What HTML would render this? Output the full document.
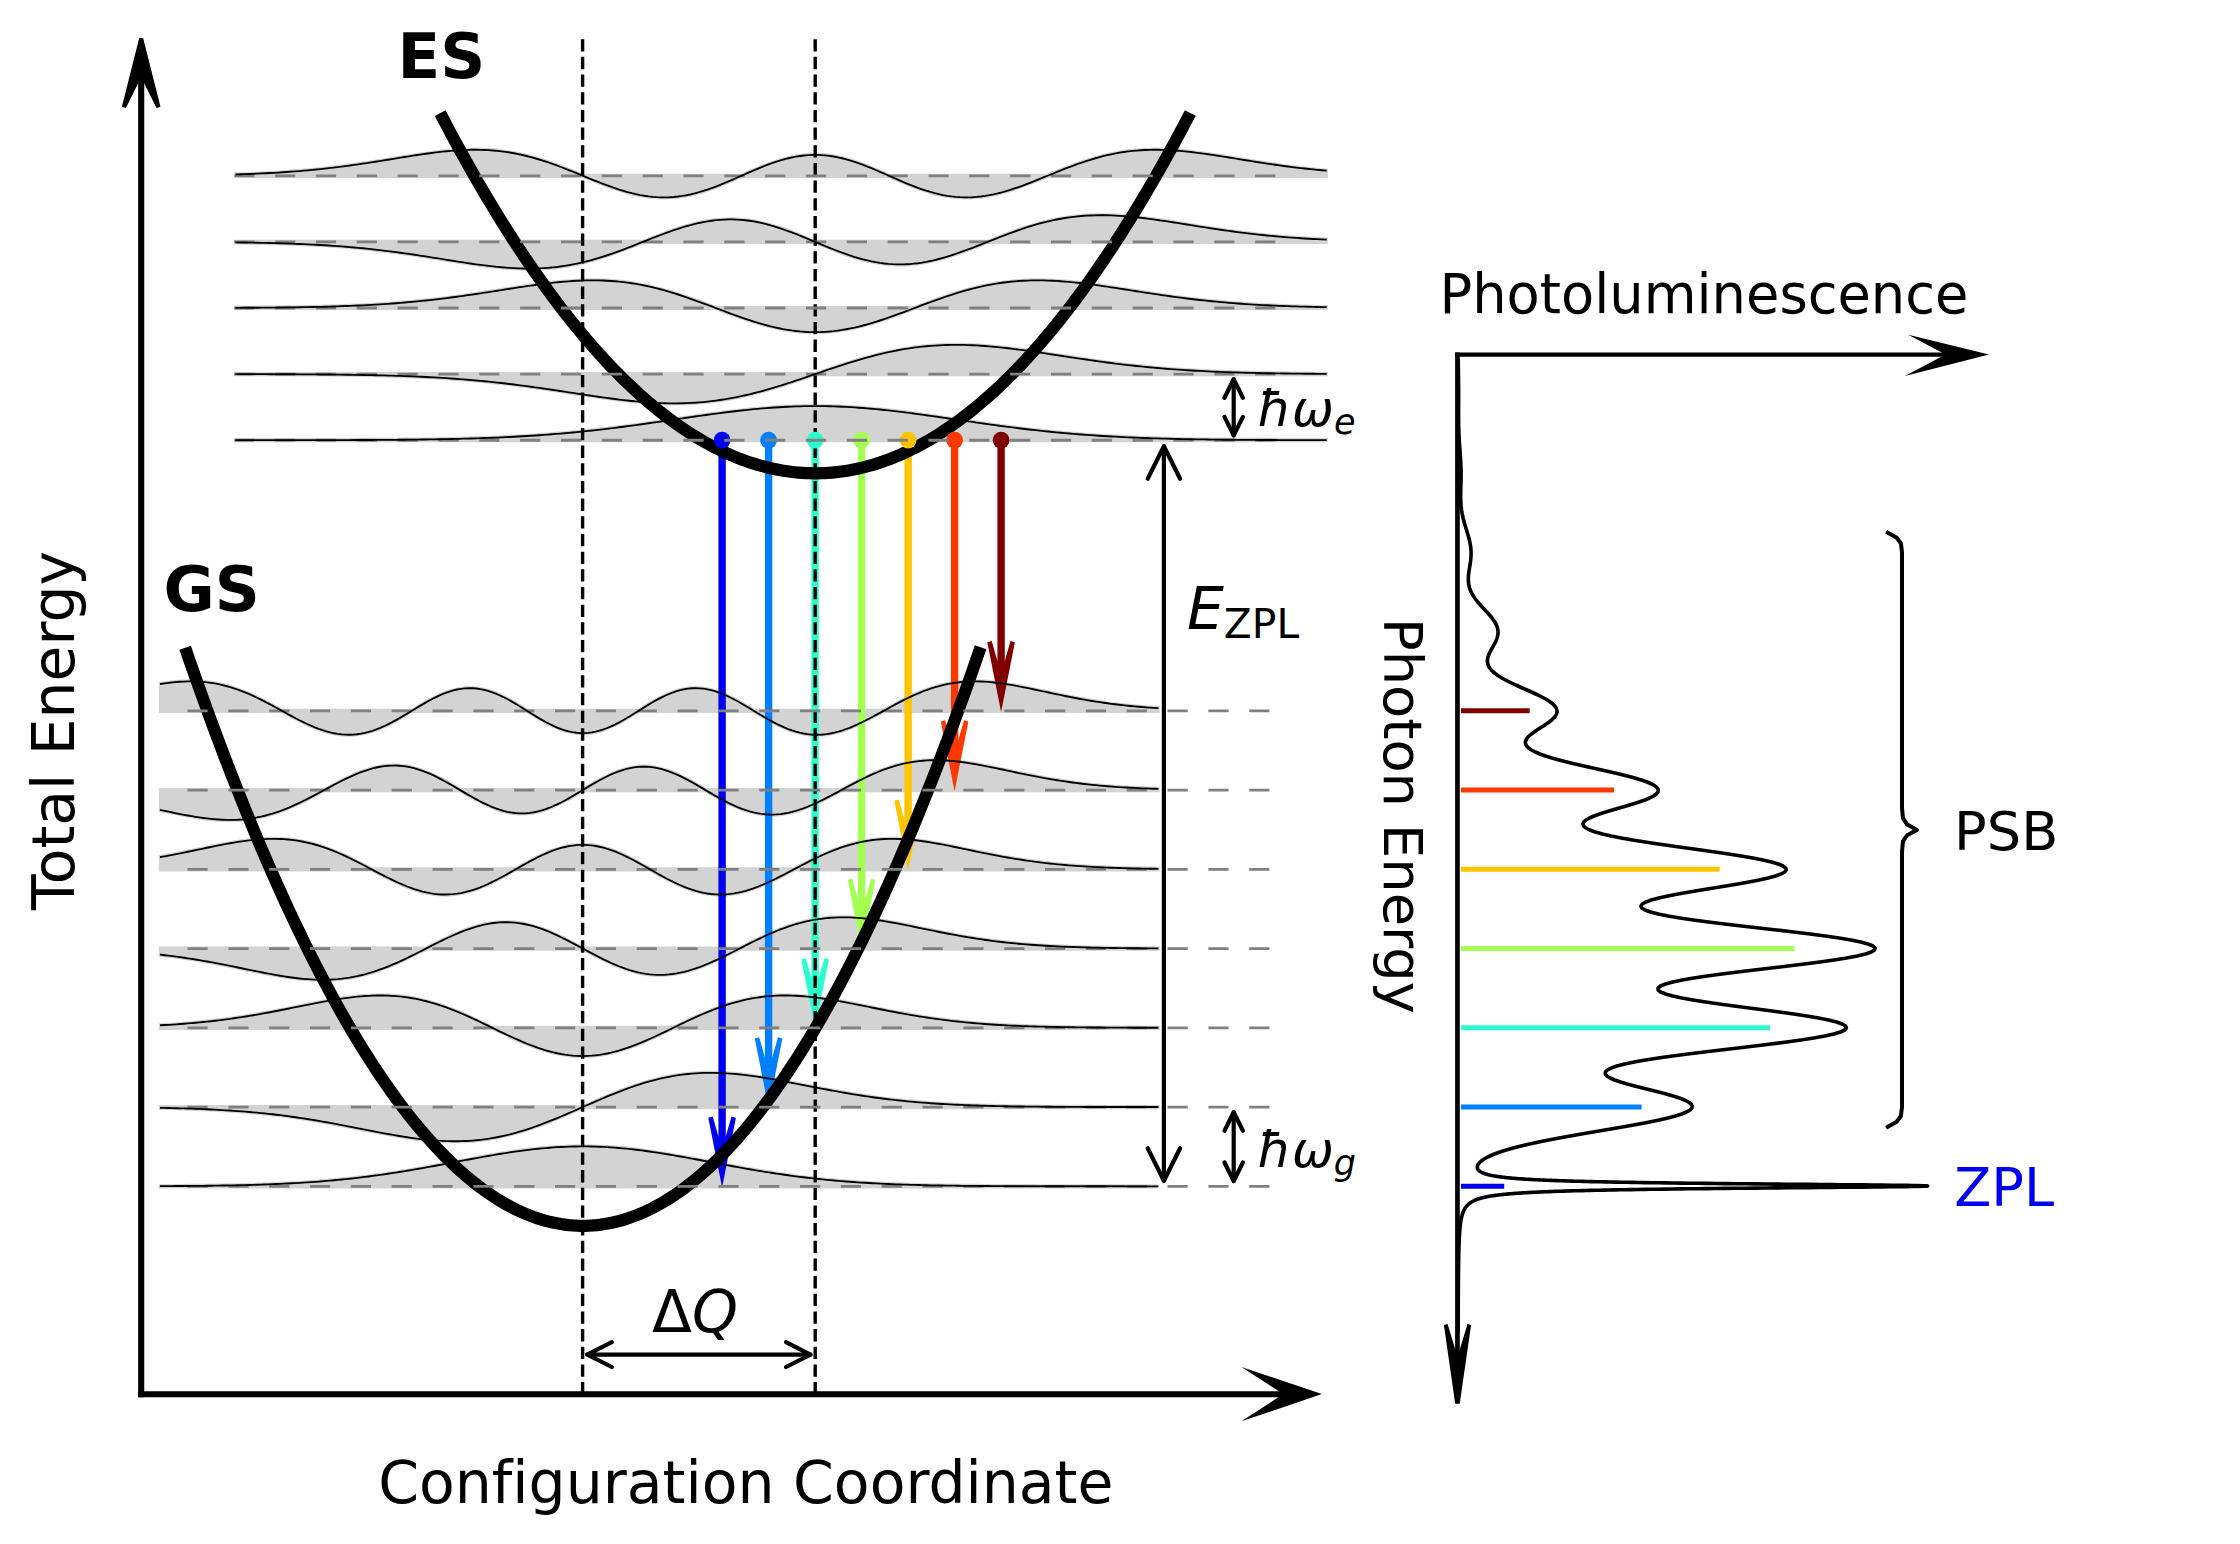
<!DOCTYPE html>
<html lang="en"><head><meta charset="utf-8"><title>Configuration coordinate diagram</title>
<style>html,body{margin:0;padding:0;background:#fff}body{width:2240px;height:1544px;overflow:hidden}</style></head>
<body>
<svg width="2240" height="1544" viewBox="0 0 2240 1544" style="display:block;font-family:'DejaVu Sans','Liberation Sans',sans-serif;font-variant-ligatures:none">
<rect width="2240" height="1544" fill="#fff"/>
<g id="fills">
<path d="M236.4 440.19 L240.61 440.19 L244.81 440.19 L249.02 440.19 L253.22 440.19 L257.43 440.19 L261.64 440.19 L265.84 440.18 L270.05 440.18 L274.26 440.18 L278.46 440.18 L282.67 440.17 L286.87 440.17 L291.08 440.17 L295.29 440.16 L299.49 440.16 L303.7 440.15 L307.91 440.15 L312.11 440.14 L316.32 440.14 L320.52 440.13 L324.73 440.12 L328.94 440.11 L333.14 440.1 L337.35 440.09 L341.55 440.08 L345.76 440.07 L349.97 440.06 L354.17 440.04 L358.38 440.02 L362.59 440.01 L366.79 439.99 L371 439.97 L375.2 439.94 L379.41 439.92 L383.62 439.89 L387.82 439.86 L392.03 439.83 L396.23 439.8 L400.44 439.76 L404.65 439.72 L408.85 439.67 L413.06 439.63 L417.27 439.58 L421.47 439.52 L425.68 439.46 L429.88 439.4 L434.09 439.33 L438.3 439.26 L442.5 439.18 L446.71 439.1 L450.92 439.01 L455.12 438.91 L459.33 438.81 L463.53 438.7 L467.74 438.58 L471.95 438.46 L476.15 438.33 L480.36 438.19 L484.56 438.04 L488.77 437.89 L492.98 437.72 L497.18 437.55 L501.39 437.36 L505.6 437.17 L509.8 436.97 L514.01 436.75 L518.21 436.52 L522.42 436.29 L526.63 436.04 L530.83 435.78 L535.04 435.5 L539.24 435.22 L543.45 434.92 L547.66 434.61 L551.86 434.28 L556.07 433.95 L560.28 433.59 L564.48 433.23 L568.69 432.85 L572.89 432.46 L577.1 432.05 L581.31 431.64 L585.51 431.2 L589.72 430.76 L593.93 430.3 L598.13 429.83 L602.34 429.34 L606.54 428.84 L610.75 428.34 L614.96 427.81 L619.16 427.28 L623.37 426.74 L627.57 426.18 L631.78 425.62 L635.99 425.05 L640.19 424.47 L644.4 423.88 L648.61 423.28 L652.81 422.68 L657.02 422.07 L661.22 421.46 L665.43 420.85 L669.64 420.23 L673.84 419.61 L678.05 419 L682.25 418.38 L686.46 417.76 L690.67 417.15 L694.87 416.54 L699.08 415.94 L703.29 415.35 L707.49 414.76 L711.7 414.18 L715.9 413.62 L720.11 413.06 L724.32 412.52 L728.52 411.99 L732.73 411.48 L736.94 410.99 L741.14 410.51 L745.35 410.05 L749.55 409.62 L753.76 409.2 L757.97 408.81 L762.17 408.44 L766.38 408.09 L770.58 407.77 L774.79 407.48 L779 407.21 L783.2 406.97 L787.41 406.76 L791.62 406.57 L795.82 406.42 L800.03 406.3 L804.23 406.2 L808.44 406.14 L812.65 406.1 L816.85 406.1 L821.06 406.13 L825.26 406.19 L829.47 406.27 L833.68 406.39 L837.88 406.54 L842.09 406.72 L846.3 406.92 L850.5 407.16 L854.71 407.42 L858.91 407.71 L863.12 408.02 L867.33 408.36 L871.53 408.73 L875.74 409.11 L879.95 409.52 L884.15 409.96 L888.36 410.41 L892.56 410.88 L896.77 411.37 L900.98 411.88 L905.18 412.41 L909.39 412.94 L913.59 413.5 L917.8 414.06 L922.01 414.64 L926.21 415.22 L930.42 415.81 L934.63 416.41 L938.83 417.02 L943.04 417.63 L947.24 418.25 L951.45 418.86 L955.66 419.48 L959.86 420.1 L964.07 420.72 L968.27 421.33 L972.48 421.94 L976.69 422.55 L980.89 423.15 L985.1 423.75 L989.31 424.34 L993.51 424.92 L997.72 425.5 L1001.92 426.06 L1006.13 426.62 L1010.34 427.17 L1014.54 427.7 L1018.75 428.22 L1022.96 428.74 L1027.16 429.24 L1031.37 429.72 L1035.57 430.2 L1039.78 430.66 L1043.99 431.11 L1048.19 431.54 L1052.4 431.97 L1056.6 432.37 L1060.81 432.77 L1065.02 433.15 L1069.22 433.52 L1073.43 433.87 L1077.64 434.21 L1081.84 434.54 L1086.05 434.85 L1090.25 435.15 L1094.46 435.44 L1098.67 435.72 L1102.87 435.98 L1107.08 436.23 L1111.28 436.47 L1115.49 436.7 L1119.7 436.92 L1123.9 437.13 L1128.11 437.32 L1132.32 437.51 L1136.52 437.69 L1140.73 437.85 L1144.93 438.01 L1149.14 438.16 L1153.35 438.3 L1157.55 438.43 L1161.76 438.56 L1165.97 438.68 L1170.17 438.79 L1174.38 438.89 L1178.58 438.99 L1182.79 439.08 L1187 439.16 L1191.2 439.24 L1195.41 439.31 L1199.61 439.38 L1203.82 439.45 L1208.03 439.51 L1212.23 439.56 L1216.44 439.62 L1220.65 439.66 L1224.85 439.71 L1229.06 439.75 L1233.26 439.79 L1237.47 439.82 L1241.68 439.86 L1245.88 439.89 L1250.09 439.91 L1254.29 439.94 L1258.5 439.96 L1262.71 439.98 L1266.91 440 L1271.12 440.02 L1275.33 440.04 L1279.53 440.05 L1283.74 440.07 L1287.94 440.08 L1292.15 440.09 L1296.36 440.1 L1300.56 440.11 L1304.77 440.12 L1308.98 440.13 L1313.18 440.14 L1317.39 440.14 L1321.59 440.15 L1325.8 440.15 L1325.8 440.2 L236.4 440.2Z" fill="#d3d3d3" stroke="#d3d3d3" stroke-width="4.2" stroke-linejoin="miter"/>
<path d="M236.4 374.14 L240.61 374.15 L244.81 374.15 L249.02 374.16 L253.22 374.17 L257.43 374.17 L261.64 374.18 L265.84 374.19 L270.05 374.2 L274.26 374.21 L278.46 374.23 L282.67 374.24 L286.87 374.26 L291.08 374.27 L295.29 374.29 L299.49 374.31 L303.7 374.34 L307.91 374.36 L312.11 374.39 L316.32 374.42 L320.52 374.45 L324.73 374.49 L328.94 374.52 L333.14 374.57 L337.35 374.61 L341.55 374.66 L345.76 374.72 L349.97 374.77 L354.17 374.84 L358.38 374.9 L362.59 374.98 L366.79 375.06 L371 375.14 L375.2 375.23 L379.41 375.33 L383.62 375.44 L387.82 375.55 L392.03 375.67 L396.23 375.81 L400.44 375.94 L404.65 376.09 L408.85 376.25 L413.06 376.42 L417.27 376.6 L421.47 376.79 L425.68 376.99 L429.88 377.21 L434.09 377.43 L438.3 377.67 L442.5 377.93 L446.71 378.19 L450.92 378.47 L455.12 378.77 L459.33 379.08 L463.53 379.4 L467.74 379.74 L471.95 380.1 L476.15 380.47 L480.36 380.86 L484.56 381.26 L488.77 381.69 L492.98 382.12 L497.18 382.57 L501.39 383.04 L505.6 383.53 L509.8 384.03 L514.01 384.54 L518.21 385.07 L522.42 385.62 L526.63 386.17 L530.83 386.74 L535.04 387.33 L539.24 387.92 L543.45 388.53 L547.66 389.14 L551.86 389.76 L556.07 390.39 L560.28 391.03 L564.48 391.67 L568.69 392.31 L572.89 392.95 L577.1 393.59 L581.31 394.23 L585.51 394.87 L589.72 395.5 L593.93 396.12 L598.13 396.73 L602.34 397.33 L606.54 397.92 L610.75 398.48 L614.96 399.03 L619.16 399.56 L623.37 400.06 L627.57 400.53 L631.78 400.98 L635.99 401.39 L640.19 401.78 L644.4 402.12 L648.61 402.43 L652.81 402.7 L657.02 402.92 L661.22 403.1 L665.43 403.23 L669.64 403.32 L673.84 403.35 L678.05 403.33 L682.25 403.26 L686.46 403.13 L690.67 402.95 L694.87 402.71 L699.08 402.41 L703.29 402.06 L707.49 401.64 L711.7 401.17 L715.9 400.63 L720.11 400.04 L724.32 399.39 L728.52 398.67 L732.73 397.91 L736.94 397.08 L741.14 396.2 L745.35 395.27 L749.55 394.28 L753.76 393.24 L757.97 392.16 L762.17 391.03 L766.38 389.86 L770.58 388.64 L774.79 387.39 L779 386.1 L783.2 384.79 L787.41 383.44 L791.62 382.07 L795.82 380.68 L800.03 379.27 L804.23 377.85 L808.44 376.41 L812.65 374.98 L816.85 373.53 L821.06 372.09 L825.26 370.66 L829.47 369.23 L833.68 367.82 L837.88 366.43 L842.09 365.05 L846.3 363.7 L850.5 362.37 L854.71 361.08 L858.91 359.82 L863.12 358.6 L867.33 357.42 L871.53 356.28 L875.74 355.18 L879.95 354.14 L884.15 353.14 L888.36 352.2 L892.56 351.3 L896.77 350.47 L900.98 349.69 L905.18 348.96 L909.39 348.3 L913.59 347.69 L917.8 347.14 L922.01 346.66 L926.21 346.23 L930.42 345.86 L934.63 345.55 L938.83 345.3 L943.04 345.1 L947.24 344.96 L951.45 344.88 L955.66 344.85 L959.86 344.87 L964.07 344.95 L968.27 345.07 L972.48 345.24 L976.69 345.45 L980.89 345.71 L985.1 346.01 L989.31 346.35 L993.51 346.72 L997.72 347.13 L1001.92 347.57 L1006.13 348.04 L1010.34 348.53 L1014.54 349.06 L1018.75 349.6 L1022.96 350.16 L1027.16 350.74 L1031.37 351.34 L1035.57 351.95 L1039.78 352.57 L1043.99 353.19 L1048.19 353.83 L1052.4 354.47 L1056.6 355.11 L1060.81 355.75 L1065.02 356.4 L1069.22 357.04 L1073.43 357.67 L1077.64 358.3 L1081.84 358.93 L1086.05 359.54 L1090.25 360.15 L1094.46 360.75 L1098.67 361.33 L1102.87 361.91 L1107.08 362.47 L1111.28 363.01 L1115.49 363.55 L1119.7 364.06 L1123.9 364.57 L1128.11 365.05 L1132.32 365.53 L1136.52 365.98 L1140.73 366.42 L1144.93 366.85 L1149.14 367.25 L1153.35 367.65 L1157.55 368.02 L1161.76 368.38 L1165.97 368.72 L1170.17 369.05 L1174.38 369.37 L1178.58 369.66 L1182.79 369.95 L1187 370.22 L1191.2 370.47 L1195.41 370.72 L1199.61 370.95 L1203.82 371.16 L1208.03 371.37 L1212.23 371.56 L1216.44 371.74 L1220.65 371.91 L1224.85 372.07 L1229.06 372.22 L1233.26 372.37 L1237.47 372.5 L1241.68 372.62 L1245.88 372.74 L1250.09 372.84 L1254.29 372.94 L1258.5 373.04 L1262.71 373.12 L1266.91 373.21 L1271.12 373.28 L1275.33 373.35 L1279.53 373.41 L1283.74 373.47 L1287.94 373.53 L1292.15 373.58 L1296.36 373.62 L1300.56 373.67 L1304.77 373.71 L1308.98 373.74 L1313.18 373.77 L1317.39 373.81 L1321.59 373.83 L1325.8 373.86 L1325.8 374.1 L236.4 374.1Z" fill="#d3d3d3" stroke="#d3d3d3" stroke-width="4.2" stroke-linejoin="miter"/>
<path d="M236.4 307.83 L240.61 307.81 L244.81 307.79 L249.02 307.77 L253.22 307.74 L257.43 307.72 L261.64 307.69 L265.84 307.65 L270.05 307.62 L274.26 307.58 L278.46 307.53 L282.67 307.48 L286.87 307.43 L291.08 307.37 L295.29 307.31 L299.49 307.25 L303.7 307.17 L307.91 307.09 L312.11 307.01 L316.32 306.92 L320.52 306.82 L324.73 306.71 L328.94 306.59 L333.14 306.47 L337.35 306.34 L341.55 306.19 L345.76 306.04 L349.97 305.87 L354.17 305.7 L358.38 305.51 L362.59 305.31 L366.79 305.1 L371 304.87 L375.2 304.63 L379.41 304.38 L383.62 304.11 L387.82 303.83 L392.03 303.53 L396.23 303.21 L400.44 302.88 L404.65 302.53 L408.85 302.16 L413.06 301.77 L417.27 301.37 L421.47 300.95 L425.68 300.52 L429.88 300.06 L434.09 299.59 L438.3 299.1 L442.5 298.59 L446.71 298.06 L450.92 297.52 L455.12 296.96 L459.33 296.39 L463.53 295.8 L467.74 295.2 L471.95 294.59 L476.15 293.97 L480.36 293.33 L484.56 292.69 L488.77 292.04 L492.98 291.38 L497.18 290.72 L501.39 290.06 L505.6 289.4 L509.8 288.74 L514.01 288.09 L518.21 287.44 L522.42 286.81 L526.63 286.18 L530.83 285.57 L535.04 284.99 L539.24 284.42 L543.45 283.87 L547.66 283.36 L551.86 282.87 L556.07 282.42 L560.28 282 L564.48 281.63 L568.69 281.3 L572.89 281.01 L577.1 280.77 L581.31 280.59 L585.51 280.45 L589.72 280.38 L593.93 280.37 L598.13 280.42 L602.34 280.53 L606.54 280.71 L610.75 280.96 L614.96 281.28 L619.16 281.67 L623.37 282.13 L627.57 282.66 L631.78 283.27 L635.99 283.95 L640.19 284.7 L644.4 285.53 L648.61 286.42 L652.81 287.39 L657.02 288.42 L661.22 289.51 L665.43 290.67 L669.64 291.89 L673.84 293.17 L678.05 294.5 L682.25 295.88 L686.46 297.3 L690.67 298.76 L694.87 300.26 L699.08 301.79 L703.29 303.34 L707.49 304.91 L711.7 306.49 L715.9 308.07 L720.11 309.66 L724.32 311.24 L728.52 312.81 L732.73 314.35 L736.94 315.87 L741.14 317.36 L745.35 318.81 L749.55 320.21 L753.76 321.56 L757.97 322.85 L762.17 324.08 L766.38 325.24 L770.58 326.32 L774.79 327.32 L779 328.24 L783.2 329.07 L787.41 329.8 L791.62 330.44 L795.82 330.98 L800.03 331.42 L804.23 331.75 L808.44 331.97 L812.65 332.09 L816.85 332.1 L821.06 332.01 L825.26 331.81 L829.47 331.5 L833.68 331.08 L837.88 330.56 L842.09 329.95 L846.3 329.23 L850.5 328.42 L854.71 327.53 L858.91 326.54 L863.12 325.48 L867.33 324.33 L871.53 323.12 L875.74 321.84 L879.95 320.5 L884.15 319.11 L888.36 317.67 L892.56 316.2 L896.77 314.68 L900.98 313.14 L905.18 311.58 L909.39 310 L913.59 308.41 L917.8 306.83 L922.01 305.24 L926.21 303.67 L930.42 302.12 L934.63 300.58 L938.83 299.08 L943.04 297.61 L947.24 296.18 L951.45 294.79 L955.66 293.45 L959.86 292.16 L964.07 290.93 L968.27 289.76 L972.48 288.65 L976.69 287.6 L980.89 286.62 L985.1 285.71 L989.31 284.87 L993.51 284.1 L997.72 283.41 L1001.92 282.79 L1006.13 282.24 L1010.34 281.76 L1014.54 281.36 L1018.75 281.02 L1022.96 280.76 L1027.16 280.56 L1031.37 280.44 L1035.57 280.37 L1039.78 280.37 L1043.99 280.43 L1048.19 280.55 L1052.4 280.73 L1056.6 280.95 L1060.81 281.23 L1065.02 281.55 L1069.22 281.92 L1073.43 282.33 L1077.64 282.77 L1081.84 283.25 L1086.05 283.76 L1090.25 284.3 L1094.46 284.86 L1098.67 285.45 L1102.87 286.05 L1107.08 286.67 L1111.28 287.3 L1115.49 287.95 L1119.7 288.6 L1123.9 289.26 L1128.11 289.92 L1132.32 290.58 L1136.52 291.24 L1140.73 291.9 L1144.93 292.55 L1149.14 293.19 L1153.35 293.83 L1157.55 294.46 L1161.76 295.07 L1165.97 295.68 L1170.17 296.27 L1174.38 296.84 L1178.58 297.4 L1182.79 297.95 L1187 298.48 L1191.2 298.99 L1195.41 299.48 L1199.61 299.96 L1203.82 300.42 L1208.03 300.86 L1212.23 301.28 L1216.44 301.69 L1220.65 302.08 L1224.85 302.45 L1229.06 302.8 L1233.26 303.14 L1237.47 303.46 L1241.68 303.76 L1245.88 304.05 L1250.09 304.32 L1254.29 304.58 L1258.5 304.82 L1262.71 305.05 L1266.91 305.27 L1271.12 305.47 L1275.33 305.66 L1279.53 305.84 L1283.74 306 L1287.94 306.16 L1292.15 306.31 L1296.36 306.44 L1300.56 306.57 L1304.77 306.68 L1308.98 306.79 L1313.18 306.9 L1317.39 306.99 L1321.59 307.08 L1325.8 307.16 L1325.8 308 L236.4 308Z" fill="#d3d3d3" stroke="#d3d3d3" stroke-width="4.2" stroke-linejoin="miter"/>
<path d="M236.4 242.43 L240.61 242.48 L244.81 242.54 L249.02 242.61 L253.22 242.68 L257.43 242.76 L261.64 242.84 L265.84 242.93 L270.05 243.03 L274.26 243.14 L278.46 243.26 L282.67 243.38 L286.87 243.52 L291.08 243.66 L295.29 243.82 L299.49 243.98 L303.7 244.16 L307.91 244.35 L312.11 244.56 L316.32 244.78 L320.52 245.01 L324.73 245.26 L328.94 245.52 L333.14 245.8 L337.35 246.1 L341.55 246.41 L345.76 246.74 L349.97 247.09 L354.17 247.46 L358.38 247.84 L362.59 248.24 L366.79 248.67 L371 249.11 L375.2 249.57 L379.41 250.05 L383.62 250.55 L387.82 251.07 L392.03 251.6 L396.23 252.16 L400.44 252.73 L404.65 253.31 L408.85 253.92 L413.06 254.53 L417.27 255.16 L421.47 255.8 L425.68 256.46 L429.88 257.12 L434.09 257.79 L438.3 258.46 L442.5 259.13 L446.71 259.81 L450.92 260.48 L455.12 261.15 L459.33 261.81 L463.53 262.46 L467.74 263.09 L471.95 263.71 L476.15 264.31 L480.36 264.88 L484.56 265.43 L488.77 265.95 L492.98 266.43 L497.18 266.87 L501.39 267.27 L505.6 267.62 L509.8 267.93 L514.01 268.18 L518.21 268.37 L522.42 268.51 L526.63 268.58 L530.83 268.58 L535.04 268.52 L539.24 268.38 L543.45 268.17 L547.66 267.88 L551.86 267.51 L556.07 267.07 L560.28 266.54 L564.48 265.93 L568.69 265.24 L572.89 264.46 L577.1 263.61 L581.31 262.67 L585.51 261.66 L589.72 260.57 L593.93 259.4 L598.13 258.17 L602.34 256.86 L606.54 255.5 L610.75 254.07 L614.96 252.6 L619.16 251.07 L623.37 249.51 L627.57 247.91 L631.78 246.28 L635.99 244.63 L640.19 242.96 L644.4 241.3 L648.61 239.63 L652.81 237.98 L657.02 236.35 L661.22 234.74 L665.43 233.17 L669.64 231.65 L673.84 230.18 L678.05 228.78 L682.25 227.44 L686.46 226.19 L690.67 225.02 L694.87 223.94 L699.08 222.97 L703.29 222.1 L707.49 221.35 L711.7 220.71 L715.9 220.19 L720.11 219.81 L724.32 219.55 L728.52 219.42 L732.73 219.42 L736.94 219.56 L741.14 219.83 L745.35 220.24 L749.55 220.77 L753.76 221.43 L757.97 222.22 L762.17 223.13 L766.38 224.15 L770.58 225.28 L774.79 226.52 L779 227.85 L783.2 229.26 L787.41 230.76 L791.62 232.32 L795.82 233.94 L800.03 235.62 L804.23 237.33 L808.44 239.07 L812.65 240.83 L816.85 242.59 L821.06 244.35 L825.26 246.1 L829.47 247.82 L833.68 249.5 L837.88 251.14 L842.09 252.71 L846.3 254.22 L850.5 255.66 L854.71 257.01 L858.91 258.26 L863.12 259.42 L867.33 260.46 L871.53 261.39 L875.74 262.21 L879.95 262.9 L884.15 263.46 L888.36 263.89 L892.56 264.19 L896.77 264.36 L900.98 264.39 L905.18 264.29 L909.39 264.06 L913.59 263.7 L917.8 263.21 L922.01 262.6 L926.21 261.87 L930.42 261.03 L934.63 260.07 L938.83 259.02 L943.04 257.87 L947.24 256.63 L951.45 255.31 L955.66 253.92 L959.86 252.47 L964.07 250.96 L968.27 249.4 L972.48 247.8 L976.69 246.17 L980.89 244.52 L985.1 242.86 L989.31 241.19 L993.51 239.53 L997.72 237.88 L1001.92 236.24 L1006.13 234.63 L1010.34 233.06 L1014.54 231.53 L1018.75 230.04 L1022.96 228.6 L1027.16 227.22 L1031.37 225.91 L1035.57 224.66 L1039.78 223.48 L1043.99 222.37 L1048.19 221.34 L1052.4 220.39 L1056.6 219.52 L1060.81 218.72 L1065.02 218.01 L1069.22 217.39 L1073.43 216.84 L1077.64 216.38 L1081.84 215.99 L1086.05 215.69 L1090.25 215.46 L1094.46 215.3 L1098.67 215.22 L1102.87 215.21 L1107.08 215.27 L1111.28 215.39 L1115.49 215.57 L1119.7 215.81 L1123.9 216.11 L1128.11 216.45 L1132.32 216.84 L1136.52 217.28 L1140.73 217.75 L1144.93 218.26 L1149.14 218.8 L1153.35 219.37 L1157.55 219.96 L1161.76 220.57 L1165.97 221.21 L1170.17 221.85 L1174.38 222.51 L1178.58 223.18 L1182.79 223.85 L1187 224.52 L1191.2 225.2 L1195.41 225.87 L1199.61 226.54 L1203.82 227.2 L1208.03 227.86 L1212.23 228.5 L1216.44 229.13 L1220.65 229.75 L1224.85 230.36 L1229.06 230.95 L1233.26 231.52 L1237.47 232.08 L1241.68 232.62 L1245.88 233.14 L1250.09 233.64 L1254.29 234.13 L1258.5 234.59 L1262.71 235.04 L1266.91 235.47 L1271.12 235.87 L1275.33 236.26 L1279.53 236.63 L1283.74 236.99 L1287.94 237.32 L1292.15 237.64 L1296.36 237.94 L1300.56 238.22 L1304.77 238.49 L1308.98 238.74 L1313.18 238.97 L1317.39 239.19 L1321.59 239.4 L1325.8 239.6 L1325.8 241.9 L236.4 241.9Z" fill="#d3d3d3" stroke="#d3d3d3" stroke-width="4.2" stroke-linejoin="miter"/>
<path d="M236.4 174.41 L240.61 174.28 L244.81 174.13 L249.02 173.98 L253.22 173.82 L257.43 173.64 L261.64 173.45 L265.84 173.25 L270.05 173.03 L274.26 172.8 L278.46 172.55 L282.67 172.28 L286.87 172 L291.08 171.7 L295.29 171.39 L299.49 171.05 L303.7 170.7 L307.91 170.33 L312.11 169.93 L316.32 169.52 L320.52 169.09 L324.73 168.64 L328.94 168.16 L333.14 167.67 L337.35 167.16 L341.55 166.63 L345.76 166.08 L349.97 165.51 L354.17 164.92 L358.38 164.32 L362.59 163.7 L366.79 163.06 L371 162.41 L375.2 161.75 L379.41 161.09 L383.62 160.41 L387.82 159.73 L392.03 159.04 L396.23 158.35 L400.44 157.67 L404.65 156.99 L408.85 156.32 L413.06 155.66 L417.27 155.01 L421.47 154.39 L425.68 153.79 L429.88 153.21 L434.09 152.66 L438.3 152.15 L442.5 151.67 L446.71 151.24 L450.92 150.86 L455.12 150.53 L459.33 150.25 L463.53 150.03 L467.74 149.87 L471.95 149.79 L476.15 149.77 L480.36 149.83 L484.56 149.96 L488.77 150.18 L492.98 150.47 L497.18 150.86 L501.39 151.33 L505.6 151.88 L509.8 152.53 L514.01 153.27 L518.21 154.09 L522.42 155 L526.63 156 L530.83 157.09 L535.04 158.25 L539.24 159.5 L543.45 160.82 L547.66 162.21 L551.86 163.66 L556.07 165.18 L560.28 166.75 L564.48 168.36 L568.69 170.02 L572.89 171.7 L577.1 173.41 L581.31 175.13 L585.51 176.85 L589.72 178.57 L593.93 180.27 L598.13 181.94 L602.34 183.58 L606.54 185.17 L610.75 186.71 L614.96 188.18 L619.16 189.57 L623.37 190.87 L627.57 192.08 L631.78 193.18 L635.99 194.17 L640.19 195.04 L644.4 195.78 L648.61 196.39 L652.81 196.85 L657.02 197.18 L661.22 197.35 L665.43 197.37 L669.64 197.25 L673.84 196.97 L678.05 196.54 L682.25 195.96 L686.46 195.23 L690.67 194.37 L694.87 193.36 L699.08 192.23 L703.29 190.97 L707.49 189.61 L711.7 188.13 L715.9 186.57 L720.11 184.92 L724.32 183.2 L728.52 181.43 L732.73 179.61 L736.94 177.77 L741.14 175.91 L745.35 174.04 L749.55 172.2 L753.76 170.38 L757.97 168.6 L762.17 166.88 L766.38 165.23 L770.58 163.66 L774.79 162.19 L779 160.83 L783.2 159.59 L787.41 158.48 L791.62 157.5 L795.82 156.67 L800.03 156 L804.23 155.49 L808.44 155.13 L812.65 154.95 L816.85 154.93 L821.06 155.08 L825.26 155.4 L829.47 155.88 L833.68 156.52 L837.88 157.31 L842.09 158.25 L846.3 159.34 L850.5 160.55 L854.71 161.89 L858.91 163.34 L863.12 164.88 L867.33 166.52 L871.53 168.22 L875.74 169.99 L879.95 171.8 L884.15 173.65 L888.36 175.51 L892.56 177.37 L896.77 179.22 L900.98 181.05 L905.18 182.83 L909.39 184.56 L913.59 186.22 L917.8 187.81 L922.01 189.3 L926.21 190.69 L930.42 191.97 L934.63 193.13 L938.83 194.16 L943.04 195.06 L947.24 195.81 L951.45 196.43 L955.66 196.89 L959.86 197.2 L964.07 197.36 L968.27 197.37 L972.48 197.23 L976.69 196.93 L980.89 196.5 L985.1 195.92 L989.31 195.21 L993.51 194.37 L997.72 193.4 L1001.92 192.33 L1006.13 191.14 L1010.34 189.86 L1014.54 188.48 L1018.75 187.03 L1022.96 185.51 L1027.16 183.93 L1031.37 182.3 L1035.57 180.63 L1039.78 178.93 L1043.99 177.22 L1048.19 175.5 L1052.4 173.78 L1056.6 172.07 L1060.81 170.38 L1065.02 168.71 L1069.22 167.09 L1073.43 165.51 L1077.64 163.98 L1081.84 162.52 L1086.05 161.11 L1090.25 159.77 L1094.46 158.51 L1098.67 157.33 L1102.87 156.23 L1107.08 155.21 L1111.28 154.28 L1115.49 153.44 L1119.7 152.68 L1123.9 152.02 L1128.11 151.44 L1132.32 150.95 L1136.52 150.55 L1140.73 150.23 L1144.93 150 L1149.14 149.85 L1153.35 149.78 L1157.55 149.78 L1161.76 149.85 L1165.97 149.99 L1170.17 150.2 L1174.38 150.46 L1178.58 150.78 L1182.79 151.16 L1187 151.58 L1191.2 152.04 L1195.41 152.55 L1199.61 153.09 L1203.82 153.66 L1208.03 154.26 L1212.23 154.88 L1216.44 155.52 L1220.65 156.18 L1224.85 156.85 L1229.06 157.52 L1233.26 158.21 L1237.47 158.89 L1241.68 159.58 L1245.88 160.26 L1250.09 160.94 L1254.29 161.61 L1258.5 162.27 L1262.71 162.92 L1266.91 163.56 L1271.12 164.18 L1275.33 164.79 L1279.53 165.38 L1283.74 165.96 L1287.94 166.51 L1292.15 167.05 L1296.36 167.56 L1300.56 168.06 L1304.77 168.54 L1308.98 168.99 L1313.18 169.43 L1317.39 169.85 L1321.59 170.24 L1325.8 170.62 L1325.8 175.8 L236.4 175.8Z" fill="#d3d3d3" stroke="#d3d3d3" stroke-width="4.2" stroke-linejoin="miter"/>
<path d="M160.9 1186.13 L164.75 1186.11 L168.6 1186.09 L172.44 1186.07 L176.29 1186.04 L180.14 1186.02 L183.99 1185.99 L187.84 1185.96 L191.68 1185.93 L195.53 1185.89 L199.38 1185.85 L203.23 1185.81 L207.07 1185.76 L210.92 1185.71 L214.77 1185.66 L218.62 1185.6 L222.47 1185.54 L226.31 1185.47 L230.16 1185.4 L234.01 1185.33 L237.86 1185.24 L241.71 1185.15 L245.55 1185.06 L249.4 1184.96 L253.25 1184.85 L257.1 1184.73 L260.94 1184.61 L264.79 1184.48 L268.64 1184.34 L272.49 1184.19 L276.34 1184.03 L280.18 1183.86 L284.03 1183.68 L287.88 1183.49 L291.73 1183.29 L295.58 1183.08 L299.42 1182.86 L303.27 1182.63 L307.12 1182.38 L310.97 1182.12 L314.82 1181.84 L318.66 1181.56 L322.51 1181.25 L326.36 1180.94 L330.21 1180.61 L334.05 1180.26 L337.9 1179.9 L341.75 1179.53 L345.6 1179.14 L349.45 1178.73 L353.29 1178.31 L357.14 1177.87 L360.99 1177.41 L364.84 1176.94 L368.69 1176.46 L372.53 1175.95 L376.38 1175.43 L380.23 1174.9 L384.08 1174.35 L387.92 1173.78 L391.77 1173.2 L395.62 1172.61 L399.47 1172 L403.32 1171.38 L407.16 1170.74 L411.01 1170.09 L414.86 1169.43 L418.71 1168.76 L422.56 1168.08 L426.4 1167.39 L430.25 1166.69 L434.1 1165.99 L437.95 1165.28 L441.79 1164.56 L445.64 1163.84 L449.49 1163.11 L453.34 1162.38 L457.19 1161.66 L461.03 1160.93 L464.88 1160.21 L468.73 1159.49 L472.58 1158.77 L476.43 1158.06 L480.27 1157.36 L484.12 1156.67 L487.97 1155.99 L491.82 1155.32 L495.67 1154.66 L499.51 1154.02 L503.36 1153.4 L507.21 1152.8 L511.06 1152.21 L514.9 1151.65 L518.75 1151.11 L522.6 1150.59 L526.45 1150.1 L530.3 1149.63 L534.14 1149.2 L537.99 1148.79 L541.84 1148.41 L545.69 1148.06 L549.54 1147.74 L553.38 1147.45 L557.23 1147.2 L561.08 1146.99 L564.93 1146.8 L568.77 1146.65 L572.62 1146.54 L576.47 1146.46 L580.32 1146.42 L584.17 1146.42 L588.01 1146.45 L591.86 1146.52 L595.71 1146.62 L599.56 1146.76 L603.41 1146.93 L607.25 1147.14 L611.1 1147.38 L614.95 1147.65 L618.8 1147.96 L622.65 1148.3 L626.49 1148.67 L630.34 1149.07 L634.19 1149.5 L638.04 1149.96 L641.88 1150.45 L645.73 1150.96 L649.58 1151.49 L653.43 1152.05 L657.28 1152.63 L661.12 1153.22 L664.97 1153.84 L668.82 1154.48 L672.67 1155.13 L676.52 1155.79 L680.36 1156.47 L684.21 1157.16 L688.06 1157.86 L691.91 1158.56 L695.75 1159.28 L699.6 1160 L703.45 1160.72 L707.3 1161.45 L711.15 1162.17 L714.99 1162.9 L718.84 1163.63 L722.69 1164.35 L726.54 1165.07 L730.39 1165.78 L734.23 1166.49 L738.08 1167.19 L741.93 1167.88 L745.78 1168.57 L749.63 1169.24 L753.47 1169.9 L757.32 1170.56 L761.17 1171.19 L765.02 1171.82 L768.86 1172.43 L772.71 1173.03 L776.56 1173.62 L780.41 1174.19 L784.26 1174.74 L788.1 1175.28 L791.95 1175.8 L795.8 1176.31 L799.65 1176.8 L803.5 1177.28 L807.34 1177.74 L811.19 1178.18 L815.04 1178.61 L818.89 1179.02 L822.73 1179.42 L826.58 1179.8 L830.43 1180.16 L834.28 1180.51 L838.13 1180.85 L841.97 1181.16 L845.82 1181.47 L849.67 1181.76 L853.52 1182.04 L857.37 1182.3 L861.21 1182.55 L865.06 1182.79 L868.91 1183.02 L872.76 1183.23 L876.61 1183.44 L880.45 1183.63 L884.3 1183.81 L888.15 1183.98 L892 1184.14 L895.84 1184.3 L899.69 1184.44 L903.54 1184.57 L907.39 1184.7 L911.24 1184.82 L915.08 1184.93 L918.93 1185.03 L922.78 1185.13 L926.63 1185.22 L930.48 1185.3 L934.32 1185.38 L938.17 1185.45 L942.02 1185.52 L945.87 1185.59 L949.71 1185.64 L953.56 1185.7 L957.41 1185.75 L961.26 1185.8 L965.11 1185.84 L968.95 1185.88 L972.8 1185.92 L976.65 1185.95 L980.5 1185.98 L984.35 1186.01 L988.19 1186.04 L992.04 1186.06 L995.89 1186.08 L999.74 1186.1 L1003.58 1186.12 L1007.43 1186.14 L1011.28 1186.15 L1015.13 1186.17 L1018.98 1186.18 L1022.82 1186.19 L1026.67 1186.2 L1030.52 1186.21 L1034.37 1186.22 L1038.22 1186.23 L1042.06 1186.24 L1045.91 1186.24 L1049.76 1186.25 L1053.61 1186.25 L1057.46 1186.26 L1061.3 1186.26 L1065.15 1186.27 L1069 1186.27 L1072.85 1186.27 L1076.69 1186.28 L1080.54 1186.28 L1084.39 1186.28 L1088.24 1186.28 L1092.09 1186.29 L1095.93 1186.29 L1099.78 1186.29 L1103.63 1186.29 L1107.48 1186.29 L1111.33 1186.29 L1115.17 1186.29 L1119.02 1186.29 L1122.87 1186.29 L1126.72 1186.3 L1130.56 1186.3 L1134.41 1186.3 L1138.26 1186.3 L1142.11 1186.3 L1145.96 1186.3 L1149.8 1186.3 L1153.65 1186.3 L1157.5 1186.3 L1157.5 1186.3 L160.9 1186.3Z" fill="#d3d3d3" stroke="#d3d3d3" stroke-width="4.2" stroke-linejoin="miter"/>
<path d="M160.9 1107.86 L164.75 1107.94 L168.6 1108.02 L172.44 1108.11 L176.29 1108.21 L180.14 1108.31 L183.99 1108.42 L187.84 1108.54 L191.68 1108.67 L195.53 1108.81 L199.38 1108.95 L203.23 1109.11 L207.07 1109.28 L210.92 1109.46 L214.77 1109.65 L218.62 1109.85 L222.47 1110.07 L226.31 1110.3 L230.16 1110.54 L234.01 1110.8 L237.86 1111.08 L241.71 1111.37 L245.55 1111.67 L249.4 1111.99 L253.25 1112.33 L257.1 1112.69 L260.94 1113.06 L264.79 1113.45 L268.64 1113.86 L272.49 1114.29 L276.34 1114.74 L280.18 1115.2 L284.03 1115.69 L287.88 1116.19 L291.73 1116.72 L295.58 1117.26 L299.42 1117.82 L303.27 1118.4 L307.12 1119 L310.97 1119.61 L314.82 1120.24 L318.66 1120.89 L322.51 1121.56 L326.36 1122.24 L330.21 1122.93 L334.05 1123.64 L337.9 1124.36 L341.75 1125.09 L345.6 1125.82 L349.45 1126.57 L353.29 1127.32 L357.14 1128.07 L360.99 1128.83 L364.84 1129.58 L368.69 1130.34 L372.53 1131.09 L376.38 1131.83 L380.23 1132.57 L384.08 1133.29 L387.92 1134 L391.77 1134.69 L395.62 1135.36 L399.47 1136.02 L403.32 1136.64 L407.16 1137.24 L411.01 1137.81 L414.86 1138.34 L418.71 1138.84 L422.56 1139.3 L426.4 1139.72 L430.25 1140.09 L434.1 1140.42 L437.95 1140.7 L441.79 1140.92 L445.64 1141.09 L449.49 1141.2 L453.34 1141.26 L457.19 1141.25 L461.03 1141.18 L464.88 1141.04 L468.73 1140.84 L472.58 1140.57 L476.43 1140.24 L480.27 1139.83 L484.12 1139.36 L487.97 1138.81 L491.82 1138.19 L495.67 1137.51 L499.51 1136.75 L503.36 1135.92 L507.21 1135.03 L511.06 1134.07 L514.9 1133.04 L518.75 1131.95 L522.6 1130.8 L526.45 1129.59 L530.3 1128.32 L534.14 1127 L537.99 1125.62 L541.84 1124.2 L545.69 1122.73 L549.54 1121.22 L553.38 1119.68 L557.23 1118.09 L561.08 1116.48 L564.93 1114.85 L568.77 1113.19 L572.62 1111.52 L576.47 1109.84 L580.32 1108.14 L584.17 1106.45 L588.01 1104.75 L591.86 1103.07 L595.71 1101.39 L599.56 1099.73 L603.41 1098.09 L607.25 1096.47 L611.1 1094.88 L614.95 1093.32 L618.8 1091.8 L622.65 1090.32 L626.49 1088.89 L630.34 1087.5 L634.19 1086.16 L638.04 1084.87 L641.88 1083.64 L645.73 1082.47 L649.58 1081.37 L653.43 1080.32 L657.28 1079.34 L661.12 1078.43 L664.97 1077.58 L668.82 1076.81 L672.67 1076.1 L676.52 1075.46 L680.36 1074.9 L684.21 1074.4 L688.06 1073.97 L691.91 1073.62 L695.75 1073.33 L699.6 1073.11 L703.45 1072.95 L707.3 1072.86 L711.15 1072.84 L714.99 1072.87 L718.84 1072.97 L722.69 1073.12 L726.54 1073.33 L730.39 1073.59 L734.23 1073.91 L738.08 1074.27 L741.93 1074.67 L745.78 1075.12 L749.63 1075.61 L753.47 1076.13 L757.32 1076.69 L761.17 1077.28 L765.02 1077.9 L768.86 1078.54 L772.71 1079.21 L776.56 1079.9 L780.41 1080.6 L784.26 1081.32 L788.1 1082.05 L791.95 1082.79 L795.8 1083.54 L799.65 1084.3 L803.5 1085.05 L807.34 1085.81 L811.19 1086.56 L815.04 1087.32 L818.89 1088.06 L822.73 1088.8 L826.58 1089.53 L830.43 1090.25 L834.28 1090.96 L838.13 1091.66 L841.97 1092.35 L845.82 1093.02 L849.67 1093.67 L853.52 1094.31 L857.37 1094.93 L861.21 1095.53 L865.06 1096.11 L868.91 1096.68 L872.76 1097.23 L876.61 1097.76 L880.45 1098.27 L884.3 1098.76 L888.15 1099.23 L892 1099.68 L895.84 1100.12 L899.69 1100.53 L903.54 1100.93 L907.39 1101.31 L911.24 1101.67 L915.08 1102.01 L918.93 1102.34 L922.78 1102.65 L926.63 1102.94 L930.48 1103.22 L934.32 1103.48 L938.17 1103.73 L942.02 1103.97 L945.87 1104.19 L949.71 1104.39 L953.56 1104.59 L957.41 1104.77 L961.26 1104.94 L965.11 1105.1 L968.95 1105.25 L972.8 1105.39 L976.65 1105.52 L980.5 1105.65 L984.35 1105.76 L988.19 1105.86 L992.04 1105.96 L995.89 1106.05 L999.74 1106.14 L1003.58 1106.22 L1007.43 1106.29 L1011.28 1106.35 L1015.13 1106.42 L1018.98 1106.47 L1022.82 1106.52 L1026.67 1106.57 L1030.52 1106.62 L1034.37 1106.66 L1038.22 1106.69 L1042.06 1106.73 L1045.91 1106.76 L1049.76 1106.78 L1053.61 1106.81 L1057.46 1106.83 L1061.3 1106.86 L1065.15 1106.87 L1069 1106.89 L1072.85 1106.91 L1076.69 1106.92 L1080.54 1106.94 L1084.39 1106.95 L1088.24 1106.96 L1092.09 1106.97 L1095.93 1106.98 L1099.78 1106.98 L1103.63 1106.99 L1107.48 1107 L1111.33 1107 L1115.17 1107.01 L1119.02 1107.01 L1122.87 1107.02 L1126.72 1107.02 L1130.56 1107.02 L1134.41 1107.03 L1138.26 1107.03 L1142.11 1107.03 L1145.96 1107.03 L1149.8 1107.04 L1153.65 1107.04 L1157.5 1107.04 L1157.5 1107.05 L160.9 1107.05Z" fill="#d3d3d3" stroke="#d3d3d3" stroke-width="4.2" stroke-linejoin="miter"/>
<path d="M160.9 1025.24 L164.75 1025.03 L168.6 1024.81 L172.44 1024.57 L176.29 1024.31 L180.14 1024.04 L183.99 1023.75 L187.84 1023.44 L191.68 1023.12 L195.53 1022.78 L199.38 1022.42 L203.23 1022.04 L207.07 1021.64 L210.92 1021.22 L214.77 1020.78 L218.62 1020.32 L222.47 1019.84 L226.31 1019.33 L230.16 1018.81 L234.01 1018.26 L237.86 1017.7 L241.71 1017.11 L245.55 1016.5 L249.4 1015.88 L253.25 1015.23 L257.1 1014.57 L260.94 1013.88 L264.79 1013.19 L268.64 1012.47 L272.49 1011.74 L276.34 1011 L280.18 1010.25 L284.03 1009.49 L287.88 1008.72 L291.73 1007.95 L295.58 1007.17 L299.42 1006.39 L303.27 1005.61 L307.12 1004.84 L310.97 1004.08 L314.82 1003.33 L318.66 1002.59 L322.51 1001.86 L326.36 1001.16 L330.21 1000.48 L334.05 999.83 L337.9 999.21 L341.75 998.62 L345.6 998.08 L349.45 997.57 L353.29 997.11 L357.14 996.7 L360.99 996.34 L364.84 996.04 L368.69 995.8 L372.53 995.63 L376.38 995.52 L380.23 995.48 L384.08 995.51 L387.92 995.62 L391.77 995.81 L395.62 996.08 L399.47 996.42 L403.32 996.86 L407.16 997.37 L411.01 997.98 L414.86 998.67 L418.71 999.44 L422.56 1000.3 L426.4 1001.25 L430.25 1002.28 L434.1 1003.4 L437.95 1004.59 L441.79 1005.86 L445.64 1007.21 L449.49 1008.63 L453.34 1010.11 L457.19 1011.66 L461.03 1013.27 L464.88 1014.93 L468.73 1016.64 L472.58 1018.4 L476.43 1020.19 L480.27 1022.01 L484.12 1023.85 L487.97 1025.7 L491.82 1027.57 L495.67 1029.44 L499.51 1031.3 L503.36 1033.14 L507.21 1034.97 L511.06 1036.76 L514.9 1038.51 L518.75 1040.22 L522.6 1041.88 L526.45 1043.48 L530.3 1045 L534.14 1046.45 L537.99 1047.83 L541.84 1049.11 L545.69 1050.3 L549.54 1051.38 L553.38 1052.37 L557.23 1053.24 L561.08 1054 L564.93 1054.64 L568.77 1055.16 L572.62 1055.56 L576.47 1055.83 L580.32 1055.98 L584.17 1055.99 L588.01 1055.89 L591.86 1055.65 L595.71 1055.29 L599.56 1054.8 L603.41 1054.2 L607.25 1053.47 L611.1 1052.63 L614.95 1051.68 L618.8 1050.62 L622.65 1049.46 L626.49 1048.21 L630.34 1046.86 L634.19 1045.43 L638.04 1043.93 L641.88 1042.35 L645.73 1040.71 L649.58 1039.01 L653.43 1037.27 L657.28 1035.49 L661.12 1033.67 L664.97 1031.83 L668.82 1029.98 L672.67 1028.11 L676.52 1026.24 L680.36 1024.38 L684.21 1022.54 L688.06 1020.71 L691.91 1018.91 L695.75 1017.15 L699.6 1015.42 L703.45 1013.75 L707.3 1012.12 L711.15 1010.56 L714.99 1009.05 L718.84 1007.61 L722.69 1006.24 L726.54 1004.95 L730.39 1003.73 L734.23 1002.6 L738.08 1001.54 L741.93 1000.57 L745.78 999.68 L749.63 998.88 L753.47 998.17 L757.32 997.54 L761.17 997 L765.02 996.54 L768.86 996.17 L772.71 995.88 L776.56 995.67 L780.41 995.54 L784.26 995.48 L788.1 995.5 L791.95 995.59 L795.8 995.75 L799.65 995.97 L803.5 996.25 L807.34 996.59 L811.19 996.99 L815.04 997.43 L818.89 997.93 L822.73 998.46 L826.58 999.04 L830.43 999.65 L834.28 1000.29 L838.13 1000.96 L841.97 1001.66 L845.82 1002.38 L849.67 1003.11 L853.52 1003.86 L857.37 1004.62 L861.21 1005.39 L865.06 1006.17 L868.91 1006.94 L872.76 1007.72 L876.61 1008.5 L880.45 1009.27 L884.3 1010.03 L888.15 1010.79 L892 1011.53 L895.84 1012.26 L899.69 1012.98 L903.54 1013.68 L907.39 1014.37 L911.24 1015.04 L915.08 1015.69 L918.93 1016.32 L922.78 1016.94 L926.63 1017.53 L930.48 1018.1 L934.32 1018.65 L938.17 1019.18 L942.02 1019.69 L945.87 1020.18 L949.71 1020.65 L953.56 1021.09 L957.41 1021.52 L961.26 1021.92 L965.11 1022.31 L968.95 1022.68 L972.8 1023.02 L976.65 1023.35 L980.5 1023.66 L984.35 1023.96 L988.19 1024.23 L992.04 1024.49 L995.89 1024.74 L999.74 1024.97 L1003.58 1025.18 L1007.43 1025.38 L1011.28 1025.57 L1015.13 1025.75 L1018.98 1025.91 L1022.82 1026.07 L1026.67 1026.21 L1030.52 1026.34 L1034.37 1026.46 L1038.22 1026.58 L1042.06 1026.68 L1045.91 1026.78 L1049.76 1026.87 L1053.61 1026.95 L1057.46 1027.03 L1061.3 1027.1 L1065.15 1027.16 L1069 1027.22 L1072.85 1027.28 L1076.69 1027.33 L1080.54 1027.37 L1084.39 1027.41 L1088.24 1027.45 L1092.09 1027.48 L1095.93 1027.52 L1099.78 1027.54 L1103.63 1027.57 L1107.48 1027.59 L1111.33 1027.61 L1115.17 1027.63 L1119.02 1027.65 L1122.87 1027.67 L1126.72 1027.68 L1130.56 1027.69 L1134.41 1027.71 L1138.26 1027.72 L1142.11 1027.73 L1145.96 1027.73 L1149.8 1027.74 L1153.65 1027.75 L1157.5 1027.75 L1157.5 1027.8 L160.9 1027.8Z" fill="#d3d3d3" stroke="#d3d3d3" stroke-width="4.2" stroke-linejoin="miter"/>
<path d="M160.9 954.77 L164.75 955.21 L168.6 955.67 L172.44 956.15 L176.29 956.66 L180.14 957.18 L183.99 957.73 L187.84 958.31 L191.68 958.9 L195.53 959.52 L199.38 960.16 L203.23 960.82 L207.07 961.5 L210.92 962.2 L214.77 962.91 L218.62 963.64 L222.47 964.39 L226.31 965.15 L230.16 965.92 L234.01 966.7 L237.86 967.49 L241.71 968.28 L245.55 969.08 L249.4 969.87 L253.25 970.66 L257.1 971.44 L260.94 972.21 L264.79 972.97 L268.64 973.71 L272.49 974.42 L276.34 975.11 L280.18 975.77 L284.03 976.39 L287.88 976.98 L291.73 977.52 L295.58 978.02 L299.42 978.46 L303.27 978.84 L307.12 979.17 L310.97 979.42 L314.82 979.61 L318.66 979.73 L322.51 979.77 L326.36 979.72 L330.21 979.6 L334.05 979.38 L337.9 979.08 L341.75 978.69 L345.6 978.2 L349.45 977.61 L353.29 976.93 L357.14 976.15 L360.99 975.27 L364.84 974.3 L368.69 973.23 L372.53 972.07 L376.38 970.82 L380.23 969.48 L384.08 968.05 L387.92 966.55 L391.77 964.96 L395.62 963.31 L399.47 961.59 L403.32 959.81 L407.16 957.99 L411.01 956.11 L414.86 954.21 L418.71 952.27 L422.56 950.32 L426.4 948.36 L430.25 946.4 L434.1 944.45 L437.95 942.52 L441.79 940.63 L445.64 938.77 L449.49 936.97 L453.34 935.23 L457.19 933.56 L461.03 931.97 L464.88 930.47 L468.73 929.08 L472.58 927.79 L476.43 926.62 L480.27 925.57 L484.12 924.66 L487.97 923.89 L491.82 923.26 L495.67 922.77 L499.51 922.44 L503.36 922.27 L507.21 922.25 L511.06 922.39 L514.9 922.69 L518.75 923.14 L522.6 923.75 L526.45 924.51 L530.3 925.42 L534.14 926.47 L537.99 927.66 L541.84 928.98 L545.69 930.42 L549.54 931.97 L553.38 933.63 L557.23 935.38 L561.08 937.22 L564.93 939.12 L568.77 941.09 L572.62 943.1 L576.47 945.14 L580.32 947.21 L584.17 949.29 L588.01 951.36 L591.86 953.41 L595.71 955.44 L599.56 957.41 L603.41 959.34 L607.25 961.19 L611.1 962.97 L614.95 964.66 L618.8 966.24 L622.65 967.71 L626.49 969.07 L630.34 970.3 L634.19 971.39 L638.04 972.34 L641.88 973.14 L645.73 973.8 L649.58 974.3 L653.43 974.64 L657.28 974.83 L661.12 974.85 L664.97 974.72 L668.82 974.44 L672.67 974 L676.52 973.41 L680.36 972.68 L684.21 971.8 L688.06 970.8 L691.91 969.66 L695.75 968.41 L699.6 967.04 L703.45 965.58 L707.3 964.01 L711.15 962.37 L714.99 960.64 L718.84 958.86 L722.69 957.02 L726.54 955.13 L730.39 953.21 L734.23 951.27 L738.08 949.31 L741.93 947.35 L745.78 945.39 L749.63 943.45 L753.47 941.53 L757.32 939.65 L761.17 937.81 L765.02 936.02 L768.86 934.28 L772.71 932.61 L776.56 931 L780.41 929.47 L784.26 928.02 L788.1 926.66 L791.95 925.38 L795.8 924.19 L799.65 923.1 L803.5 922.1 L807.34 921.19 L811.19 920.39 L815.04 919.68 L818.89 919.06 L822.73 918.55 L826.58 918.12 L830.43 917.79 L834.28 917.55 L838.13 917.4 L841.97 917.34 L845.82 917.35 L849.67 917.45 L853.52 917.61 L857.37 917.85 L861.21 918.16 L865.06 918.53 L868.91 918.95 L872.76 919.43 L876.61 919.96 L880.45 920.53 L884.3 921.14 L888.15 921.79 L892 922.48 L895.84 923.18 L899.69 923.92 L903.54 924.67 L907.39 925.43 L911.24 926.21 L915.08 927 L918.93 927.79 L922.78 928.59 L926.63 929.38 L930.48 930.17 L934.32 930.95 L938.17 931.73 L942.02 932.49 L945.87 933.24 L949.71 933.98 L953.56 934.7 L957.41 935.4 L961.26 936.09 L965.11 936.75 L968.95 937.4 L972.8 938.02 L976.65 938.62 L980.5 939.2 L984.35 939.76 L988.19 940.29 L992.04 940.81 L995.89 941.3 L999.74 941.76 L1003.58 942.21 L1007.43 942.63 L1011.28 943.03 L1015.13 943.41 L1018.98 943.77 L1022.82 944.11 L1026.67 944.44 L1030.52 944.74 L1034.37 945.02 L1038.22 945.29 L1042.06 945.54 L1045.91 945.77 L1049.76 945.99 L1053.61 946.2 L1057.46 946.39 L1061.3 946.57 L1065.15 946.73 L1069 946.89 L1072.85 947.03 L1076.69 947.16 L1080.54 947.28 L1084.39 947.39 L1088.24 947.5 L1092.09 947.59 L1095.93 947.68 L1099.78 947.76 L1103.63 947.83 L1107.48 947.9 L1111.33 947.96 L1115.17 948.02 L1119.02 948.07 L1122.87 948.12 L1126.72 948.16 L1130.56 948.2 L1134.41 948.24 L1138.26 948.27 L1142.11 948.3 L1145.96 948.32 L1149.8 948.35 L1153.65 948.37 L1157.5 948.39 L1157.5 948.55 L160.9 948.55Z" fill="#d3d3d3" stroke="#d3d3d3" stroke-width="4.2" stroke-linejoin="miter"/>
<path d="M160.9 857.02 L164.75 856.33 L168.6 855.61 L172.44 854.87 L176.29 854.12 L180.14 853.35 L183.99 852.57 L187.84 851.78 L191.68 850.98 L195.53 850.18 L199.38 849.37 L203.23 848.56 L207.07 847.76 L210.92 846.97 L214.77 846.18 L218.62 845.41 L222.47 844.66 L226.31 843.94 L230.16 843.24 L234.01 842.58 L237.86 841.95 L241.71 841.37 L245.55 840.84 L249.4 840.36 L253.25 839.93 L257.1 839.57 L260.94 839.28 L264.79 839.06 L268.64 838.92 L272.49 838.85 L276.34 838.88 L280.18 838.99 L284.03 839.2 L287.88 839.51 L291.73 839.91 L295.58 840.41 L299.42 841.02 L303.27 841.74 L307.12 842.56 L310.97 843.48 L314.82 844.51 L318.66 845.64 L322.51 846.87 L326.36 848.21 L330.21 849.63 L334.05 851.15 L337.9 852.75 L341.75 854.44 L345.6 856.19 L349.45 858.02 L353.29 859.9 L357.14 861.83 L360.99 863.79 L364.84 865.79 L368.69 867.81 L372.53 869.84 L376.38 871.86 L380.23 873.87 L384.08 875.85 L387.92 877.79 L391.77 879.68 L395.62 881.51 L399.47 883.26 L403.32 884.93 L407.16 886.49 L411.01 887.95 L414.86 889.28 L418.71 890.48 L422.56 891.54 L426.4 892.46 L430.25 893.21 L434.1 893.8 L437.95 894.22 L441.79 894.47 L445.64 894.54 L449.49 894.43 L453.34 894.15 L457.19 893.68 L461.03 893.04 L464.88 892.22 L468.73 891.23 L472.58 890.08 L476.43 888.78 L480.27 887.33 L484.12 885.75 L487.97 884.04 L491.82 882.21 L495.67 880.29 L499.51 878.28 L503.36 876.21 L507.21 874.08 L511.06 871.91 L514.9 869.72 L518.75 867.53 L522.6 865.35 L526.45 863.21 L530.3 861.11 L534.14 859.08 L537.99 857.13 L541.84 855.28 L545.69 853.54 L549.54 851.92 L553.38 850.45 L557.23 849.13 L561.08 847.97 L564.93 846.99 L568.77 846.18 L572.62 845.57 L576.47 845.14 L580.32 844.92 L584.17 844.89 L588.01 845.06 L591.86 845.42 L595.71 845.99 L599.56 846.73 L603.41 847.67 L607.25 848.78 L611.1 850.05 L614.95 851.48 L618.8 853.05 L622.65 854.76 L626.49 856.58 L630.34 858.5 L634.19 860.51 L638.04 862.59 L641.88 864.73 L645.73 866.9 L649.58 869.09 L653.43 871.28 L657.28 873.45 L661.12 875.59 L664.97 877.69 L668.82 879.72 L672.67 881.66 L676.52 883.52 L680.36 885.26 L684.21 886.89 L688.06 888.38 L691.91 889.72 L695.75 890.92 L699.6 891.95 L703.45 892.82 L707.3 893.51 L711.15 894.03 L714.99 894.37 L718.84 894.53 L722.69 894.51 L726.54 894.31 L730.39 893.94 L734.23 893.4 L738.08 892.69 L741.93 891.82 L745.78 890.81 L749.63 889.64 L753.47 888.35 L757.32 886.93 L761.17 885.39 L765.02 883.76 L768.86 882.03 L772.71 880.22 L776.56 878.35 L780.41 876.42 L784.26 874.45 L788.1 872.44 L791.95 870.42 L795.8 868.4 L799.65 866.38 L803.5 864.37 L807.34 862.39 L811.19 860.45 L815.04 858.56 L818.89 856.72 L822.73 854.94 L826.58 853.23 L830.43 851.61 L834.28 850.06 L838.13 848.61 L841.97 847.25 L845.82 845.99 L849.67 844.83 L853.52 843.77 L857.37 842.81 L861.21 841.96 L865.06 841.22 L868.91 840.58 L872.76 840.04 L876.61 839.61 L880.45 839.28 L884.3 839.04 L888.15 838.9 L892 838.85 L895.84 838.89 L899.69 839.01 L903.54 839.21 L907.39 839.48 L911.24 839.82 L915.08 840.23 L918.93 840.69 L922.78 841.21 L926.63 841.78 L930.48 842.39 L934.32 843.05 L938.17 843.73 L942.02 844.45 L945.87 845.19 L949.71 845.96 L953.56 846.74 L957.41 847.53 L961.26 848.33 L965.11 849.14 L968.95 849.94 L972.8 850.75 L976.65 851.55 L980.5 852.34 L984.35 853.13 L988.19 853.9 L992.04 854.66 L995.89 855.4 L999.74 856.12 L1003.58 856.82 L1007.43 857.51 L1011.28 858.17 L1015.13 858.81 L1018.98 859.43 L1022.82 860.02 L1026.67 860.59 L1030.52 861.14 L1034.37 861.66 L1038.22 862.16 L1042.06 862.63 L1045.91 863.08 L1049.76 863.51 L1053.61 863.92 L1057.46 864.3 L1061.3 864.67 L1065.15 865.01 L1069 865.33 L1072.85 865.63 L1076.69 865.91 L1080.54 866.18 L1084.39 866.43 L1088.24 866.66 L1092.09 866.88 L1095.93 867.08 L1099.78 867.26 L1103.63 867.44 L1107.48 867.6 L1111.33 867.75 L1115.17 867.88 L1119.02 868.01 L1122.87 868.13 L1126.72 868.24 L1130.56 868.33 L1134.41 868.42 L1138.26 868.51 L1142.11 868.58 L1145.96 868.65 L1149.8 868.72 L1153.65 868.77 L1157.5 868.83 L1157.5 869.3 L160.9 869.3Z" fill="#d3d3d3" stroke="#d3d3d3" stroke-width="4.2" stroke-linejoin="miter"/>
<path d="M160.9 810.08 L164.75 810.9 L168.6 811.71 L172.44 812.51 L176.29 813.29 L180.14 814.06 L183.99 814.8 L187.84 815.51 L191.68 816.19 L195.53 816.83 L199.38 817.42 L203.23 817.97 L207.07 818.45 L210.92 818.88 L214.77 819.24 L218.62 819.53 L222.47 819.74 L226.31 819.87 L230.16 819.91 L234.01 819.86 L237.86 819.72 L241.71 819.47 L245.55 819.12 L249.4 818.66 L253.25 818.09 L257.1 817.42 L260.94 816.63 L264.79 815.73 L268.64 814.71 L272.49 813.59 L276.34 812.36 L280.18 811.02 L284.03 809.58 L287.88 808.04 L291.73 806.41 L295.58 804.69 L299.42 802.89 L303.27 801.03 L307.12 799.1 L310.97 797.12 L314.82 795.09 L318.66 793.04 L322.51 790.97 L326.36 788.89 L330.21 786.83 L334.05 784.78 L337.9 782.76 L341.75 780.8 L345.6 778.89 L349.45 777.07 L353.29 775.33 L357.14 773.7 L360.99 772.18 L364.84 770.79 L368.69 769.55 L372.53 768.45 L376.38 767.52 L380.23 766.76 L384.08 766.17 L387.92 765.78 L391.77 765.57 L395.62 765.55 L399.47 765.74 L403.32 766.11 L407.16 766.69 L411.01 767.46 L414.86 768.41 L418.71 769.54 L422.56 770.85 L426.4 772.33 L430.25 773.95 L434.1 775.71 L437.95 777.6 L441.79 779.6 L445.64 781.69 L449.49 783.85 L453.34 786.07 L457.19 788.33 L461.03 790.6 L464.88 792.87 L468.73 795.11 L472.58 797.3 L476.43 799.43 L480.27 801.47 L484.12 803.4 L487.97 805.21 L491.82 806.87 L495.67 808.37 L499.51 809.7 L503.36 810.85 L507.21 811.79 L511.06 812.52 L514.9 813.04 L518.75 813.34 L522.6 813.4 L526.45 813.25 L530.3 812.86 L534.14 812.25 L537.99 811.43 L541.84 810.39 L545.69 809.16 L549.54 807.73 L553.38 806.13 L557.23 804.38 L561.08 802.48 L564.93 800.45 L568.77 798.33 L572.62 796.12 L576.47 793.85 L580.32 791.55 L584.17 789.23 L588.01 786.91 L591.86 784.63 L595.71 782.4 L599.56 780.25 L603.41 778.2 L607.25 776.26 L611.1 774.46 L614.95 772.81 L618.8 771.34 L622.65 770.05 L626.49 768.95 L630.34 768.06 L634.19 767.39 L638.04 766.94 L641.88 766.72 L645.73 766.72 L649.58 766.95 L653.43 767.4 L657.28 768.08 L661.12 768.96 L664.97 770.04 L668.82 771.32 L672.67 772.78 L676.52 774.4 L680.36 776.16 L684.21 778.06 L688.06 780.07 L691.91 782.18 L695.75 784.35 L699.6 786.58 L703.45 788.84 L707.3 791.11 L711.15 793.38 L714.99 795.61 L718.84 797.79 L722.69 799.9 L726.54 801.93 L730.39 803.85 L734.23 805.65 L738.08 807.32 L741.93 808.84 L745.78 810.19 L749.63 811.38 L753.47 812.39 L757.32 813.21 L761.17 813.84 L765.02 814.27 L768.86 814.51 L772.71 814.56 L776.56 814.4 L780.41 814.06 L784.26 813.53 L788.1 812.82 L791.95 811.94 L795.8 810.89 L799.65 809.68 L803.5 808.34 L807.34 806.85 L811.19 805.25 L815.04 803.55 L818.89 801.74 L822.73 799.86 L826.58 797.91 L830.43 795.91 L834.28 793.87 L838.13 791.81 L841.97 789.73 L845.82 787.66 L849.67 785.6 L853.52 783.57 L857.37 781.57 L861.21 779.63 L865.06 777.74 L868.91 775.92 L872.76 774.18 L876.61 772.52 L880.45 770.96 L884.3 769.49 L888.15 768.12 L892 766.85 L895.84 765.7 L899.69 764.65 L903.54 763.72 L907.39 762.9 L911.24 762.19 L915.08 761.59 L918.93 761.1 L922.78 760.72 L926.63 760.45 L930.48 760.27 L934.32 760.19 L938.17 760.21 L942.02 760.31 L945.87 760.5 L949.71 760.77 L953.56 761.11 L957.41 761.52 L961.26 761.99 L965.11 762.52 L968.95 763.1 L972.8 763.72 L976.65 764.39 L980.5 765.09 L984.35 765.83 L988.19 766.59 L992.04 767.37 L995.89 768.16 L999.74 768.97 L1003.58 769.78 L1007.43 770.6 L1011.28 771.42 L1015.13 772.23 L1018.98 773.04 L1022.82 773.84 L1026.67 774.63 L1030.52 775.4 L1034.37 776.15 L1038.22 776.89 L1042.06 777.61 L1045.91 778.31 L1049.76 778.98 L1053.61 779.63 L1057.46 780.26 L1061.3 780.87 L1065.15 781.45 L1069 782 L1072.85 782.53 L1076.69 783.03 L1080.54 783.51 L1084.39 783.97 L1088.24 784.4 L1092.09 784.81 L1095.93 785.19 L1099.78 785.56 L1103.63 785.9 L1107.48 786.22 L1111.33 786.52 L1115.17 786.8 L1119.02 787.06 L1122.87 787.31 L1126.72 787.54 L1130.56 787.75 L1134.41 787.94 L1138.26 788.13 L1142.11 788.3 L1145.96 788.45 L1149.8 788.6 L1153.65 788.73 L1157.5 788.85 L1157.5 790.05 L160.9 790.05Z" fill="#d3d3d3" stroke="#d3d3d3" stroke-width="4.2" stroke-linejoin="miter"/>
<path d="M160.9 683.89 L164.75 683.33 L168.6 682.84 L172.44 682.41 L176.29 682.04 L180.14 681.76 L183.99 681.55 L187.84 681.44 L191.68 681.41 L195.53 681.48 L199.38 681.66 L203.23 681.93 L207.07 682.32 L210.92 682.83 L214.77 683.44 L218.62 684.18 L222.47 685.03 L226.31 686 L230.16 687.09 L234.01 688.29 L237.86 689.61 L241.71 691.03 L245.55 692.57 L249.4 694.2 L253.25 695.92 L257.1 697.73 L260.94 699.62 L264.79 701.57 L268.64 703.59 L272.49 705.64 L276.34 707.73 L280.18 709.84 L284.03 711.96 L287.88 714.07 L291.73 716.15 L295.58 718.2 L299.42 720.2 L303.27 722.12 L307.12 723.96 L310.97 725.71 L314.82 727.34 L318.66 728.83 L322.51 730.19 L326.36 731.39 L330.21 732.43 L334.05 733.28 L337.9 733.95 L341.75 734.43 L345.6 734.7 L349.45 734.76 L353.29 734.62 L357.14 734.27 L360.99 733.7 L364.84 732.93 L368.69 731.96 L372.53 730.79 L376.38 729.44 L380.23 727.91 L384.08 726.22 L387.92 724.38 L391.77 722.42 L395.62 720.33 L399.47 718.16 L403.32 715.91 L407.16 713.61 L411.01 711.28 L414.86 708.95 L418.71 706.64 L422.56 704.37 L426.4 702.17 L430.25 700.05 L434.1 698.05 L437.95 696.18 L441.79 694.47 L445.64 692.93 L449.49 691.58 L453.34 690.44 L457.19 689.52 L461.03 688.83 L464.88 688.38 L468.73 688.18 L472.58 688.22 L476.43 688.52 L480.27 689.06 L484.12 689.85 L487.97 690.87 L491.82 692.11 L495.67 693.57 L499.51 695.22 L503.36 697.04 L507.21 699.03 L511.06 701.14 L514.9 703.37 L518.75 705.69 L522.6 708.06 L526.45 710.47 L530.3 712.87 L534.14 715.26 L537.99 717.59 L541.84 719.84 L545.69 721.99 L549.54 724.01 L553.38 725.87 L557.23 727.56 L561.08 729.05 L564.93 730.33 L568.77 731.38 L572.62 732.19 L576.47 732.74 L580.32 733.04 L584.17 733.08 L588.01 732.86 L591.86 732.37 L595.71 731.64 L599.56 730.66 L603.41 729.45 L607.25 728.01 L611.1 726.38 L614.95 724.57 L618.8 722.59 L622.65 720.48 L626.49 718.25 L630.34 715.94 L634.19 713.57 L638.04 711.16 L641.88 708.76 L645.73 706.37 L649.58 704.04 L653.43 701.78 L657.28 699.63 L661.12 697.6 L664.97 695.73 L668.82 694.02 L672.67 692.51 L676.52 691.2 L680.36 690.12 L684.21 689.26 L688.06 688.65 L691.91 688.28 L695.75 688.16 L699.6 688.3 L703.45 688.67 L707.3 689.3 L711.15 690.15 L714.99 691.23 L718.84 692.52 L722.69 694 L726.54 695.67 L730.39 697.49 L734.23 699.46 L738.08 701.54 L741.93 703.72 L745.78 705.98 L749.63 708.28 L753.47 710.61 L757.32 712.94 L761.17 715.25 L765.02 717.51 L768.86 719.71 L772.71 721.82 L776.56 723.83 L780.41 725.7 L784.26 727.44 L788.1 729.02 L791.95 730.42 L795.8 731.64 L799.65 732.67 L803.5 733.5 L807.34 734.13 L811.19 734.54 L815.04 734.74 L818.89 734.74 L822.73 734.53 L826.58 734.11 L830.43 733.5 L834.28 732.69 L838.13 731.71 L841.97 730.56 L845.82 729.24 L849.67 727.78 L853.52 726.19 L857.37 724.48 L861.21 722.67 L865.06 720.76 L868.91 718.79 L872.76 716.75 L876.61 714.68 L880.45 712.57 L884.3 710.46 L888.15 708.34 L892 706.25 L895.84 704.18 L899.69 702.15 L903.54 700.18 L907.39 698.27 L911.24 696.44 L915.08 694.69 L918.93 693.03 L922.78 691.47 L926.63 690.01 L930.48 688.66 L934.32 687.42 L938.17 686.3 L942.02 685.3 L945.87 684.41 L949.71 683.64 L953.56 682.99 L957.41 682.46 L961.26 682.04 L965.11 681.72 L968.95 681.52 L972.8 681.42 L976.65 681.42 L980.5 681.51 L984.35 681.69 L988.19 681.95 L992.04 682.29 L995.89 682.71 L999.74 683.18 L1003.58 683.72 L1007.43 684.31 L1011.28 684.95 L1015.13 685.63 L1018.98 686.35 L1022.82 687.1 L1026.67 687.87 L1030.52 688.66 L1034.37 689.47 L1038.22 690.29 L1042.06 691.12 L1045.91 691.95 L1049.76 692.77 L1053.61 693.59 L1057.46 694.41 L1061.3 695.21 L1065.15 696 L1069 696.77 L1072.85 697.52 L1076.69 698.26 L1080.54 698.97 L1084.39 699.66 L1088.24 700.33 L1092.09 700.97 L1095.93 701.59 L1099.78 702.18 L1103.63 702.75 L1107.48 703.29 L1111.33 703.8 L1115.17 704.29 L1119.02 704.75 L1122.87 705.19 L1126.72 705.6 L1130.56 705.99 L1134.41 706.36 L1138.26 706.71 L1142.11 707.03 L1145.96 707.33 L1149.8 707.61 L1153.65 707.88 L1157.5 708.12 L1157.5 710.8 L160.9 710.8Z" fill="#d3d3d3" stroke="#d3d3d3" stroke-width="4.2" stroke-linejoin="miter"/>
</g>
<g id="transitions">
<line x1="722.1" y1="440.2" x2="722.1" y2="1141" stroke="#0000f1" stroke-width="7.4"/>
<polygon points="722.1,1187.4 708.3,1117.7 712.7,1116.4 718.4,1136.4 725.8,1136.4 731.5,1116.4 735.9,1117.7" fill="#0000f1"/>
<line x1="768.6" y1="440.2" x2="768.6" y2="1061.75" stroke="#0080ff" stroke-width="7.4"/>
<polygon points="768.6,1108.15 754.8,1038.45 759.2,1037.15 764.9,1057.15 772.3,1057.15 778,1037.15 782.4,1038.45" fill="#0080ff"/>
<line x1="815.1" y1="440.2" x2="815.1" y2="982.5" stroke="#29ffce" stroke-width="7.4"/>
<polygon points="815.1,1028.9 801.3,959.2 805.7,957.9 811.4,977.9 818.8,977.9 824.5,957.9 828.9,959.2" fill="#29ffce"/>
<line x1="861.6" y1="440.2" x2="861.6" y2="903.25" stroke="#a4ff53" stroke-width="7.4"/>
<polygon points="861.6,949.65 847.8,879.95 852.2,878.65 857.9,898.65 865.3,898.65 871,878.65 875.4,879.95" fill="#a4ff53"/>
<line x1="908.1" y1="440.2" x2="908.1" y2="824" stroke="#ffc400" stroke-width="7.4"/>
<polygon points="908.1,870.4 894.3,800.7 898.7,799.4 904.4,819.4 911.8,819.4 917.5,799.4 921.9,800.7" fill="#ffc400"/>
<line x1="954.6" y1="440.2" x2="954.6" y2="744.75" stroke="#ff3800" stroke-width="7.4"/>
<polygon points="954.6,791.15 940.8,721.45 945.2,720.15 950.9,740.15 958.3,740.15 964,720.15 968.4,721.45" fill="#ff3800"/>
<line x1="1001.1" y1="440.2" x2="1001.1" y2="665.5" stroke="#800000" stroke-width="7.4"/>
<polygon points="1001.1,711.9 987.3,642.2 991.7,640.9 997.4,660.9 1004.8,660.9 1010.5,640.9 1014.9,642.2" fill="#800000"/>
</g>
<path d="M440.2 113.17 L443.97 120.38 L447.74 127.51 L451.51 134.57 L455.28 141.55 L459.05 148.46 L462.82 155.3 L466.59 162.07 L470.35 168.76 L474.12 175.38 L477.89 181.93 L481.66 188.41 L485.43 194.81 L489.2 201.14 L492.97 207.4 L496.74 213.58 L500.51 219.69 L504.28 225.73 L508.05 231.7 L511.82 237.59 L515.59 243.41 L519.36 249.16 L523.13 254.84 L526.89 260.44 L530.66 265.97 L534.43 271.42 L538.2 276.81 L541.97 282.12 L545.74 287.36 L549.51 292.52 L553.28 297.62 L557.05 302.64 L560.82 307.59 L564.59 312.46 L568.36 317.26 L572.13 321.99 L575.9 326.65 L579.67 331.23 L583.44 335.74 L587.2 340.18 L590.97 344.54 L594.74 348.84 L598.51 353.06 L602.28 357.2 L606.05 361.28 L609.82 365.28 L613.59 369.21 L617.36 373.06 L621.13 376.85 L624.9 380.56 L628.67 384.19 L632.44 387.76 L636.21 391.25 L639.98 394.67 L643.74 398.02 L647.51 401.29 L651.28 404.49 L655.05 407.62 L658.82 410.68 L662.59 413.66 L666.36 416.57 L670.13 419.41 L673.9 422.17 L677.67 424.86 L681.44 427.48 L685.21 430.03 L688.98 432.5 L692.75 434.9 L696.52 437.23 L700.28 439.48 L704.05 441.66 L707.82 443.77 L711.59 445.81 L715.36 447.77 L719.13 449.67 L722.9 451.48 L726.67 453.23 L730.44 454.9 L734.21 456.5 L737.98 458.03 L741.75 459.48 L745.52 460.87 L749.29 462.17 L753.06 463.41 L756.83 464.57 L760.59 465.66 L764.36 466.68 L768.13 467.63 L771.9 468.5 L775.67 469.3 L779.44 470.03 L783.21 470.68 L786.98 471.26 L790.75 471.77 L794.52 472.2 L798.29 472.57 L802.06 472.86 L805.83 473.07 L809.6 473.22 L813.37 473.29 L817.13 473.29 L820.9 473.22 L824.67 473.07 L828.44 472.85 L832.21 472.56 L835.98 472.19 L839.75 471.76 L843.52 471.25 L847.29 470.66 L851.06 470.01 L854.83 469.28 L858.6 468.48 L862.37 467.6 L866.14 466.66 L869.91 465.64 L873.67 464.54 L877.44 463.38 L881.21 462.14 L884.98 460.83 L888.75 459.45 L892.52 457.99 L896.29 456.46 L900.06 454.86 L903.83 453.18 L907.6 451.44 L911.37 449.62 L915.14 447.72 L918.91 445.76 L922.68 443.72 L926.45 441.61 L930.22 439.42 L933.98 437.17 L937.75 434.84 L941.52 432.43 L945.29 429.96 L949.06 427.41 L952.83 424.79 L956.6 422.1 L960.37 419.33 L964.14 416.49 L967.91 413.58 L971.68 410.6 L975.45 407.54 L979.22 404.41 L982.99 401.21 L986.76 397.93 L990.52 394.58 L994.29 391.16 L998.06 387.67 L1001.83 384.1 L1005.6 380.46 L1009.37 376.75 L1013.14 372.96 L1016.91 369.1 L1020.68 365.17 L1024.45 361.17 L1028.22 357.09 L1031.99 352.95 L1035.76 348.72 L1039.53 344.43 L1043.3 340.06 L1047.06 335.62 L1050.83 331.11 L1054.6 326.52 L1058.37 321.87 L1062.14 317.14 L1065.91 312.33 L1069.68 307.45 L1073.45 302.51 L1077.22 297.48 L1080.99 292.39 L1084.76 287.22 L1088.53 281.98 L1092.3 276.67 L1096.07 271.28 L1099.84 265.82 L1103.61 260.29 L1107.37 254.69 L1111.14 249.01 L1114.91 243.26 L1118.68 237.44 L1122.45 231.54 L1126.22 225.57 L1129.99 219.53 L1133.76 213.42 L1137.53 207.23 L1141.3 200.97 L1145.07 194.64 L1148.84 188.24 L1152.61 181.76 L1156.38 175.21 L1160.15 168.59 L1163.91 161.89 L1167.68 155.12 L1171.45 148.28 L1175.22 141.37 L1178.99 134.38 L1182.76 127.32 L1186.53 120.19 L1190.3 112.98" fill="none" stroke="#000" stroke-width="12.2"/>
<path d="M185.15 647.85 L189.15 659.41 L193.14 670.86 L197.14 682.19 L201.14 693.4 L205.14 704.49 L209.13 715.47 L213.13 726.33 L217.13 737.07 L221.13 747.7 L225.12 758.21 L229.12 768.6 L233.12 778.88 L237.12 789.04 L241.11 799.08 L245.11 809.01 L249.11 818.82 L253.11 828.51 L257.1 838.09 L261.1 847.55 L265.1 856.89 L269.1 866.11 L273.09 875.22 L277.09 884.21 L281.09 893.09 L285.09 901.85 L289.08 910.49 L293.08 919.01 L297.08 927.42 L301.08 935.71 L305.07 943.88 L309.07 951.94 L313.07 959.88 L317.07 967.71 L321.06 975.41 L325.06 983 L329.06 990.48 L333.06 997.83 L337.05 1005.07 L341.05 1012.19 L345.05 1019.2 L349.05 1026.09 L353.04 1032.86 L357.04 1039.52 L361.04 1046.06 L365.04 1052.48 L369.03 1058.78 L373.03 1064.97 L377.03 1071.04 L381.03 1077 L385.02 1082.83 L389.02 1088.55 L393.02 1094.16 L397.02 1099.65 L401.01 1105.02 L405.01 1110.27 L409.01 1115.41 L413.01 1120.43 L417 1125.33 L421 1130.12 L425 1134.79 L429 1139.34 L432.99 1143.78 L436.99 1148.09 L440.99 1152.3 L444.99 1156.38 L448.98 1160.35 L452.98 1164.2 L456.98 1167.94 L460.98 1171.56 L464.97 1175.06 L468.97 1178.44 L472.97 1181.71 L476.97 1184.86 L480.96 1187.9 L484.96 1190.81 L488.96 1193.61 L492.96 1196.3 L496.95 1198.86 L500.95 1201.31 L504.95 1203.65 L508.95 1205.86 L512.94 1207.96 L516.94 1209.95 L520.94 1211.81 L524.94 1213.56 L528.93 1215.19 L532.93 1216.71 L536.93 1218.11 L540.93 1219.39 L544.92 1220.56 L548.92 1221.6 L552.92 1222.54 L556.92 1223.35 L560.91 1224.05 L564.91 1224.63 L568.91 1225.09 L572.91 1225.44 L576.9 1225.67 L580.9 1225.79 L584.9 1225.78 L588.9 1225.66 L592.89 1225.43 L596.89 1225.07 L600.89 1224.6 L604.89 1224.02 L608.88 1223.31 L612.88 1222.49 L616.88 1221.56 L620.88 1220.5 L624.87 1219.33 L628.87 1218.04 L632.87 1216.64 L636.87 1215.12 L640.86 1213.48 L644.86 1211.72 L648.86 1209.85 L652.86 1207.86 L656.85 1205.76 L660.85 1203.53 L664.85 1201.19 L668.85 1198.74 L672.84 1196.17 L676.84 1193.48 L680.84 1190.67 L684.84 1187.75 L688.83 1184.71 L692.83 1181.55 L696.83 1178.28 L700.83 1174.89 L704.82 1171.38 L708.82 1167.75 L712.82 1164.01 L716.82 1160.16 L720.81 1156.18 L724.81 1152.09 L728.81 1147.88 L732.81 1143.56 L736.8 1139.11 L740.8 1134.56 L744.8 1129.88 L748.8 1125.09 L752.79 1120.18 L756.79 1115.15 L760.79 1110.01 L764.79 1104.75 L768.78 1099.37 L772.78 1093.88 L776.78 1088.27 L780.78 1082.54 L784.77 1076.7 L788.77 1070.74 L792.77 1064.66 L796.77 1058.47 L800.76 1052.16 L804.76 1045.73 L808.76 1039.19 L812.76 1032.53 L816.75 1025.75 L820.75 1018.85 L824.75 1011.84 L828.75 1004.71 L832.74 997.47 L836.74 990.1 L840.74 982.63 L844.74 975.03 L848.73 967.32 L852.73 959.49 L856.73 951.54 L860.73 943.48 L864.72 935.3 L868.72 927 L872.72 918.59 L876.72 910.06 L880.71 901.41 L884.71 892.65 L888.71 883.77 L892.71 874.77 L896.7 865.65 L900.7 856.42 L904.7 847.08 L908.7 837.61 L912.69 828.03 L916.69 818.33 L920.69 808.52 L924.69 798.58 L928.68 788.53 L932.68 778.37 L936.68 768.09 L940.68 757.69 L944.67 747.17 L948.67 736.54 L952.67 725.79 L956.67 714.92 L960.66 703.94 L964.66 692.84 L968.66 681.62 L972.66 670.29 L976.65 658.84 L980.65 647.27" fill="none" stroke="#000" stroke-width="12.2"/>
<line x1="582.6" y1="39.2" x2="582.6" y2="1393" stroke="#000" stroke-width="3.4" stroke-dasharray="12.3 5.37"/>
<line x1="815.2" y1="39.2" x2="815.2" y2="1393" stroke="#000" stroke-width="3.4" stroke-dasharray="12.3 5.37"/>
<circle cx="722.1" cy="440.2" r="8.4" fill="#0000f1"/>
<circle cx="768.6" cy="440.2" r="8.4" fill="#0080ff"/>
<circle cx="815.1" cy="440.2" r="8.4" fill="#29ffce"/>
<circle cx="861.6" cy="440.2" r="8.4" fill="#a4ff53"/>
<circle cx="908.1" cy="440.2" r="8.4" fill="#ffc400"/>
<circle cx="954.6" cy="440.2" r="8.4" fill="#ff3800"/>
<circle cx="1001.1" cy="440.2" r="8.4" fill="#800000"/>
<line x1="234.25" y1="440.2" x2="1275.5" y2="440.2" stroke="#808080" stroke-width="2.85" stroke-dasharray="20.2 20.635"/>
<line x1="234.25" y1="374.1" x2="1275.5" y2="374.1" stroke="#808080" stroke-width="2.85" stroke-dasharray="20.2 20.635"/>
<line x1="234.25" y1="308" x2="1275.5" y2="308" stroke="#808080" stroke-width="2.85" stroke-dasharray="20.2 20.635"/>
<line x1="234.25" y1="241.9" x2="1275.5" y2="241.9" stroke="#808080" stroke-width="2.85" stroke-dasharray="20.2 20.635"/>
<line x1="234.25" y1="175.8" x2="1275.5" y2="175.8" stroke="#808080" stroke-width="2.85" stroke-dasharray="20.2 20.635"/>
<line x1="187.5" y1="1186.3" x2="1269.8" y2="1186.3" stroke="#808080" stroke-width="2.85" stroke-dasharray="20.2 20.635"/>
<line x1="187.5" y1="1107.05" x2="1269.8" y2="1107.05" stroke="#808080" stroke-width="2.85" stroke-dasharray="20.2 20.635"/>
<line x1="187.5" y1="1027.8" x2="1269.8" y2="1027.8" stroke="#808080" stroke-width="2.85" stroke-dasharray="20.2 20.635"/>
<line x1="187.5" y1="948.55" x2="1269.8" y2="948.55" stroke="#808080" stroke-width="2.85" stroke-dasharray="20.2 20.635"/>
<line x1="187.5" y1="869.3" x2="1269.8" y2="869.3" stroke="#808080" stroke-width="2.85" stroke-dasharray="20.2 20.635"/>
<line x1="187.5" y1="790.05" x2="1269.8" y2="790.05" stroke="#808080" stroke-width="2.85" stroke-dasharray="20.2 20.635"/>
<line x1="187.5" y1="710.8" x2="1269.8" y2="710.8" stroke="#808080" stroke-width="2.85" stroke-dasharray="20.2 20.635"/>
<g id="psi">
<path d="M236.4 440.19 L240.61 440.19 L244.81 440.19 L249.02 440.19 L253.22 440.19 L257.43 440.19 L261.64 440.19 L265.84 440.18 L270.05 440.18 L274.26 440.18 L278.46 440.18 L282.67 440.17 L286.87 440.17 L291.08 440.17 L295.29 440.16 L299.49 440.16 L303.7 440.15 L307.91 440.15 L312.11 440.14 L316.32 440.14 L320.52 440.13 L324.73 440.12 L328.94 440.11 L333.14 440.1 L337.35 440.09 L341.55 440.08 L345.76 440.07 L349.97 440.06 L354.17 440.04 L358.38 440.02 L362.59 440.01 L366.79 439.99 L371 439.97 L375.2 439.94 L379.41 439.92 L383.62 439.89 L387.82 439.86 L392.03 439.83 L396.23 439.8 L400.44 439.76 L404.65 439.72 L408.85 439.67 L413.06 439.63 L417.27 439.58 L421.47 439.52 L425.68 439.46 L429.88 439.4 L434.09 439.33 L438.3 439.26 L442.5 439.18 L446.71 439.1 L450.92 439.01 L455.12 438.91 L459.33 438.81 L463.53 438.7 L467.74 438.58 L471.95 438.46 L476.15 438.33 L480.36 438.19 L484.56 438.04 L488.77 437.89 L492.98 437.72 L497.18 437.55 L501.39 437.36 L505.6 437.17 L509.8 436.97 L514.01 436.75 L518.21 436.52 L522.42 436.29 L526.63 436.04 L530.83 435.78 L535.04 435.5 L539.24 435.22 L543.45 434.92 L547.66 434.61 L551.86 434.28 L556.07 433.95 L560.28 433.59 L564.48 433.23 L568.69 432.85 L572.89 432.46 L577.1 432.05 L581.31 431.64 L585.51 431.2 L589.72 430.76 L593.93 430.3 L598.13 429.83 L602.34 429.34 L606.54 428.84 L610.75 428.34 L614.96 427.81 L619.16 427.28 L623.37 426.74 L627.57 426.18 L631.78 425.62 L635.99 425.05 L640.19 424.47 L644.4 423.88 L648.61 423.28 L652.81 422.68 L657.02 422.07 L661.22 421.46 L665.43 420.85 L669.64 420.23 L673.84 419.61 L678.05 419 L682.25 418.38 L686.46 417.76 L690.67 417.15 L694.87 416.54 L699.08 415.94 L703.29 415.35 L707.49 414.76 L711.7 414.18 L715.9 413.62 L720.11 413.06 L724.32 412.52 L728.52 411.99 L732.73 411.48 L736.94 410.99 L741.14 410.51 L745.35 410.05 L749.55 409.62 L753.76 409.2 L757.97 408.81 L762.17 408.44 L766.38 408.09 L770.58 407.77 L774.79 407.48 L779 407.21 L783.2 406.97 L787.41 406.76 L791.62 406.57 L795.82 406.42 L800.03 406.3 L804.23 406.2 L808.44 406.14 L812.65 406.1 L816.85 406.1 L821.06 406.13 L825.26 406.19 L829.47 406.27 L833.68 406.39 L837.88 406.54 L842.09 406.72 L846.3 406.92 L850.5 407.16 L854.71 407.42 L858.91 407.71 L863.12 408.02 L867.33 408.36 L871.53 408.73 L875.74 409.11 L879.95 409.52 L884.15 409.96 L888.36 410.41 L892.56 410.88 L896.77 411.37 L900.98 411.88 L905.18 412.41 L909.39 412.94 L913.59 413.5 L917.8 414.06 L922.01 414.64 L926.21 415.22 L930.42 415.81 L934.63 416.41 L938.83 417.02 L943.04 417.63 L947.24 418.25 L951.45 418.86 L955.66 419.48 L959.86 420.1 L964.07 420.72 L968.27 421.33 L972.48 421.94 L976.69 422.55 L980.89 423.15 L985.1 423.75 L989.31 424.34 L993.51 424.92 L997.72 425.5 L1001.92 426.06 L1006.13 426.62 L1010.34 427.17 L1014.54 427.7 L1018.75 428.22 L1022.96 428.74 L1027.16 429.24 L1031.37 429.72 L1035.57 430.2 L1039.78 430.66 L1043.99 431.11 L1048.19 431.54 L1052.4 431.97 L1056.6 432.37 L1060.81 432.77 L1065.02 433.15 L1069.22 433.52 L1073.43 433.87 L1077.64 434.21 L1081.84 434.54 L1086.05 434.85 L1090.25 435.15 L1094.46 435.44 L1098.67 435.72 L1102.87 435.98 L1107.08 436.23 L1111.28 436.47 L1115.49 436.7 L1119.7 436.92 L1123.9 437.13 L1128.11 437.32 L1132.32 437.51 L1136.52 437.69 L1140.73 437.85 L1144.93 438.01 L1149.14 438.16 L1153.35 438.3 L1157.55 438.43 L1161.76 438.56 L1165.97 438.68 L1170.17 438.79 L1174.38 438.89 L1178.58 438.99 L1182.79 439.08 L1187 439.16 L1191.2 439.24 L1195.41 439.31 L1199.61 439.38 L1203.82 439.45 L1208.03 439.51 L1212.23 439.56 L1216.44 439.62 L1220.65 439.66 L1224.85 439.71 L1229.06 439.75 L1233.26 439.79 L1237.47 439.82 L1241.68 439.86 L1245.88 439.89 L1250.09 439.91 L1254.29 439.94 L1258.5 439.96 L1262.71 439.98 L1266.91 440 L1271.12 440.02 L1275.33 440.04 L1279.53 440.05 L1283.74 440.07 L1287.94 440.08 L1292.15 440.09 L1296.36 440.1 L1300.56 440.11 L1304.77 440.12 L1308.98 440.13 L1313.18 440.14 L1317.39 440.14 L1321.59 440.15 L1325.8 440.15" fill="none" stroke="#000" stroke-width="1.85" stroke-linecap="square"/>
<path d="M236.4 374.14 L240.61 374.15 L244.81 374.15 L249.02 374.16 L253.22 374.17 L257.43 374.17 L261.64 374.18 L265.84 374.19 L270.05 374.2 L274.26 374.21 L278.46 374.23 L282.67 374.24 L286.87 374.26 L291.08 374.27 L295.29 374.29 L299.49 374.31 L303.7 374.34 L307.91 374.36 L312.11 374.39 L316.32 374.42 L320.52 374.45 L324.73 374.49 L328.94 374.52 L333.14 374.57 L337.35 374.61 L341.55 374.66 L345.76 374.72 L349.97 374.77 L354.17 374.84 L358.38 374.9 L362.59 374.98 L366.79 375.06 L371 375.14 L375.2 375.23 L379.41 375.33 L383.62 375.44 L387.82 375.55 L392.03 375.67 L396.23 375.81 L400.44 375.94 L404.65 376.09 L408.85 376.25 L413.06 376.42 L417.27 376.6 L421.47 376.79 L425.68 376.99 L429.88 377.21 L434.09 377.43 L438.3 377.67 L442.5 377.93 L446.71 378.19 L450.92 378.47 L455.12 378.77 L459.33 379.08 L463.53 379.4 L467.74 379.74 L471.95 380.1 L476.15 380.47 L480.36 380.86 L484.56 381.26 L488.77 381.69 L492.98 382.12 L497.18 382.57 L501.39 383.04 L505.6 383.53 L509.8 384.03 L514.01 384.54 L518.21 385.07 L522.42 385.62 L526.63 386.17 L530.83 386.74 L535.04 387.33 L539.24 387.92 L543.45 388.53 L547.66 389.14 L551.86 389.76 L556.07 390.39 L560.28 391.03 L564.48 391.67 L568.69 392.31 L572.89 392.95 L577.1 393.59 L581.31 394.23 L585.51 394.87 L589.72 395.5 L593.93 396.12 L598.13 396.73 L602.34 397.33 L606.54 397.92 L610.75 398.48 L614.96 399.03 L619.16 399.56 L623.37 400.06 L627.57 400.53 L631.78 400.98 L635.99 401.39 L640.19 401.78 L644.4 402.12 L648.61 402.43 L652.81 402.7 L657.02 402.92 L661.22 403.1 L665.43 403.23 L669.64 403.32 L673.84 403.35 L678.05 403.33 L682.25 403.26 L686.46 403.13 L690.67 402.95 L694.87 402.71 L699.08 402.41 L703.29 402.06 L707.49 401.64 L711.7 401.17 L715.9 400.63 L720.11 400.04 L724.32 399.39 L728.52 398.67 L732.73 397.91 L736.94 397.08 L741.14 396.2 L745.35 395.27 L749.55 394.28 L753.76 393.24 L757.97 392.16 L762.17 391.03 L766.38 389.86 L770.58 388.64 L774.79 387.39 L779 386.1 L783.2 384.79 L787.41 383.44 L791.62 382.07 L795.82 380.68 L800.03 379.27 L804.23 377.85 L808.44 376.41 L812.65 374.98 L816.85 373.53 L821.06 372.09 L825.26 370.66 L829.47 369.23 L833.68 367.82 L837.88 366.43 L842.09 365.05 L846.3 363.7 L850.5 362.37 L854.71 361.08 L858.91 359.82 L863.12 358.6 L867.33 357.42 L871.53 356.28 L875.74 355.18 L879.95 354.14 L884.15 353.14 L888.36 352.2 L892.56 351.3 L896.77 350.47 L900.98 349.69 L905.18 348.96 L909.39 348.3 L913.59 347.69 L917.8 347.14 L922.01 346.66 L926.21 346.23 L930.42 345.86 L934.63 345.55 L938.83 345.3 L943.04 345.1 L947.24 344.96 L951.45 344.88 L955.66 344.85 L959.86 344.87 L964.07 344.95 L968.27 345.07 L972.48 345.24 L976.69 345.45 L980.89 345.71 L985.1 346.01 L989.31 346.35 L993.51 346.72 L997.72 347.13 L1001.92 347.57 L1006.13 348.04 L1010.34 348.53 L1014.54 349.06 L1018.75 349.6 L1022.96 350.16 L1027.16 350.74 L1031.37 351.34 L1035.57 351.95 L1039.78 352.57 L1043.99 353.19 L1048.19 353.83 L1052.4 354.47 L1056.6 355.11 L1060.81 355.75 L1065.02 356.4 L1069.22 357.04 L1073.43 357.67 L1077.64 358.3 L1081.84 358.93 L1086.05 359.54 L1090.25 360.15 L1094.46 360.75 L1098.67 361.33 L1102.87 361.91 L1107.08 362.47 L1111.28 363.01 L1115.49 363.55 L1119.7 364.06 L1123.9 364.57 L1128.11 365.05 L1132.32 365.53 L1136.52 365.98 L1140.73 366.42 L1144.93 366.85 L1149.14 367.25 L1153.35 367.65 L1157.55 368.02 L1161.76 368.38 L1165.97 368.72 L1170.17 369.05 L1174.38 369.37 L1178.58 369.66 L1182.79 369.95 L1187 370.22 L1191.2 370.47 L1195.41 370.72 L1199.61 370.95 L1203.82 371.16 L1208.03 371.37 L1212.23 371.56 L1216.44 371.74 L1220.65 371.91 L1224.85 372.07 L1229.06 372.22 L1233.26 372.37 L1237.47 372.5 L1241.68 372.62 L1245.88 372.74 L1250.09 372.84 L1254.29 372.94 L1258.5 373.04 L1262.71 373.12 L1266.91 373.21 L1271.12 373.28 L1275.33 373.35 L1279.53 373.41 L1283.74 373.47 L1287.94 373.53 L1292.15 373.58 L1296.36 373.62 L1300.56 373.67 L1304.77 373.71 L1308.98 373.74 L1313.18 373.77 L1317.39 373.81 L1321.59 373.83 L1325.8 373.86" fill="none" stroke="#000" stroke-width="1.85" stroke-linecap="square"/>
<path d="M236.4 307.83 L240.61 307.81 L244.81 307.79 L249.02 307.77 L253.22 307.74 L257.43 307.72 L261.64 307.69 L265.84 307.65 L270.05 307.62 L274.26 307.58 L278.46 307.53 L282.67 307.48 L286.87 307.43 L291.08 307.37 L295.29 307.31 L299.49 307.25 L303.7 307.17 L307.91 307.09 L312.11 307.01 L316.32 306.92 L320.52 306.82 L324.73 306.71 L328.94 306.59 L333.14 306.47 L337.35 306.34 L341.55 306.19 L345.76 306.04 L349.97 305.87 L354.17 305.7 L358.38 305.51 L362.59 305.31 L366.79 305.1 L371 304.87 L375.2 304.63 L379.41 304.38 L383.62 304.11 L387.82 303.83 L392.03 303.53 L396.23 303.21 L400.44 302.88 L404.65 302.53 L408.85 302.16 L413.06 301.77 L417.27 301.37 L421.47 300.95 L425.68 300.52 L429.88 300.06 L434.09 299.59 L438.3 299.1 L442.5 298.59 L446.71 298.06 L450.92 297.52 L455.12 296.96 L459.33 296.39 L463.53 295.8 L467.74 295.2 L471.95 294.59 L476.15 293.97 L480.36 293.33 L484.56 292.69 L488.77 292.04 L492.98 291.38 L497.18 290.72 L501.39 290.06 L505.6 289.4 L509.8 288.74 L514.01 288.09 L518.21 287.44 L522.42 286.81 L526.63 286.18 L530.83 285.57 L535.04 284.99 L539.24 284.42 L543.45 283.87 L547.66 283.36 L551.86 282.87 L556.07 282.42 L560.28 282 L564.48 281.63 L568.69 281.3 L572.89 281.01 L577.1 280.77 L581.31 280.59 L585.51 280.45 L589.72 280.38 L593.93 280.37 L598.13 280.42 L602.34 280.53 L606.54 280.71 L610.75 280.96 L614.96 281.28 L619.16 281.67 L623.37 282.13 L627.57 282.66 L631.78 283.27 L635.99 283.95 L640.19 284.7 L644.4 285.53 L648.61 286.42 L652.81 287.39 L657.02 288.42 L661.22 289.51 L665.43 290.67 L669.64 291.89 L673.84 293.17 L678.05 294.5 L682.25 295.88 L686.46 297.3 L690.67 298.76 L694.87 300.26 L699.08 301.79 L703.29 303.34 L707.49 304.91 L711.7 306.49 L715.9 308.07 L720.11 309.66 L724.32 311.24 L728.52 312.81 L732.73 314.35 L736.94 315.87 L741.14 317.36 L745.35 318.81 L749.55 320.21 L753.76 321.56 L757.97 322.85 L762.17 324.08 L766.38 325.24 L770.58 326.32 L774.79 327.32 L779 328.24 L783.2 329.07 L787.41 329.8 L791.62 330.44 L795.82 330.98 L800.03 331.42 L804.23 331.75 L808.44 331.97 L812.65 332.09 L816.85 332.1 L821.06 332.01 L825.26 331.81 L829.47 331.5 L833.68 331.08 L837.88 330.56 L842.09 329.95 L846.3 329.23 L850.5 328.42 L854.71 327.53 L858.91 326.54 L863.12 325.48 L867.33 324.33 L871.53 323.12 L875.74 321.84 L879.95 320.5 L884.15 319.11 L888.36 317.67 L892.56 316.2 L896.77 314.68 L900.98 313.14 L905.18 311.58 L909.39 310 L913.59 308.41 L917.8 306.83 L922.01 305.24 L926.21 303.67 L930.42 302.12 L934.63 300.58 L938.83 299.08 L943.04 297.61 L947.24 296.18 L951.45 294.79 L955.66 293.45 L959.86 292.16 L964.07 290.93 L968.27 289.76 L972.48 288.65 L976.69 287.6 L980.89 286.62 L985.1 285.71 L989.31 284.87 L993.51 284.1 L997.72 283.41 L1001.92 282.79 L1006.13 282.24 L1010.34 281.76 L1014.54 281.36 L1018.75 281.02 L1022.96 280.76 L1027.16 280.56 L1031.37 280.44 L1035.57 280.37 L1039.78 280.37 L1043.99 280.43 L1048.19 280.55 L1052.4 280.73 L1056.6 280.95 L1060.81 281.23 L1065.02 281.55 L1069.22 281.92 L1073.43 282.33 L1077.64 282.77 L1081.84 283.25 L1086.05 283.76 L1090.25 284.3 L1094.46 284.86 L1098.67 285.45 L1102.87 286.05 L1107.08 286.67 L1111.28 287.3 L1115.49 287.95 L1119.7 288.6 L1123.9 289.26 L1128.11 289.92 L1132.32 290.58 L1136.52 291.24 L1140.73 291.9 L1144.93 292.55 L1149.14 293.19 L1153.35 293.83 L1157.55 294.46 L1161.76 295.07 L1165.97 295.68 L1170.17 296.27 L1174.38 296.84 L1178.58 297.4 L1182.79 297.95 L1187 298.48 L1191.2 298.99 L1195.41 299.48 L1199.61 299.96 L1203.82 300.42 L1208.03 300.86 L1212.23 301.28 L1216.44 301.69 L1220.65 302.08 L1224.85 302.45 L1229.06 302.8 L1233.26 303.14 L1237.47 303.46 L1241.68 303.76 L1245.88 304.05 L1250.09 304.32 L1254.29 304.58 L1258.5 304.82 L1262.71 305.05 L1266.91 305.27 L1271.12 305.47 L1275.33 305.66 L1279.53 305.84 L1283.74 306 L1287.94 306.16 L1292.15 306.31 L1296.36 306.44 L1300.56 306.57 L1304.77 306.68 L1308.98 306.79 L1313.18 306.9 L1317.39 306.99 L1321.59 307.08 L1325.8 307.16" fill="none" stroke="#000" stroke-width="1.85" stroke-linecap="square"/>
<path d="M236.4 242.43 L240.61 242.48 L244.81 242.54 L249.02 242.61 L253.22 242.68 L257.43 242.76 L261.64 242.84 L265.84 242.93 L270.05 243.03 L274.26 243.14 L278.46 243.26 L282.67 243.38 L286.87 243.52 L291.08 243.66 L295.29 243.82 L299.49 243.98 L303.7 244.16 L307.91 244.35 L312.11 244.56 L316.32 244.78 L320.52 245.01 L324.73 245.26 L328.94 245.52 L333.14 245.8 L337.35 246.1 L341.55 246.41 L345.76 246.74 L349.97 247.09 L354.17 247.46 L358.38 247.84 L362.59 248.24 L366.79 248.67 L371 249.11 L375.2 249.57 L379.41 250.05 L383.62 250.55 L387.82 251.07 L392.03 251.6 L396.23 252.16 L400.44 252.73 L404.65 253.31 L408.85 253.92 L413.06 254.53 L417.27 255.16 L421.47 255.8 L425.68 256.46 L429.88 257.12 L434.09 257.79 L438.3 258.46 L442.5 259.13 L446.71 259.81 L450.92 260.48 L455.12 261.15 L459.33 261.81 L463.53 262.46 L467.74 263.09 L471.95 263.71 L476.15 264.31 L480.36 264.88 L484.56 265.43 L488.77 265.95 L492.98 266.43 L497.18 266.87 L501.39 267.27 L505.6 267.62 L509.8 267.93 L514.01 268.18 L518.21 268.37 L522.42 268.51 L526.63 268.58 L530.83 268.58 L535.04 268.52 L539.24 268.38 L543.45 268.17 L547.66 267.88 L551.86 267.51 L556.07 267.07 L560.28 266.54 L564.48 265.93 L568.69 265.24 L572.89 264.46 L577.1 263.61 L581.31 262.67 L585.51 261.66 L589.72 260.57 L593.93 259.4 L598.13 258.17 L602.34 256.86 L606.54 255.5 L610.75 254.07 L614.96 252.6 L619.16 251.07 L623.37 249.51 L627.57 247.91 L631.78 246.28 L635.99 244.63 L640.19 242.96 L644.4 241.3 L648.61 239.63 L652.81 237.98 L657.02 236.35 L661.22 234.74 L665.43 233.17 L669.64 231.65 L673.84 230.18 L678.05 228.78 L682.25 227.44 L686.46 226.19 L690.67 225.02 L694.87 223.94 L699.08 222.97 L703.29 222.1 L707.49 221.35 L711.7 220.71 L715.9 220.19 L720.11 219.81 L724.32 219.55 L728.52 219.42 L732.73 219.42 L736.94 219.56 L741.14 219.83 L745.35 220.24 L749.55 220.77 L753.76 221.43 L757.97 222.22 L762.17 223.13 L766.38 224.15 L770.58 225.28 L774.79 226.52 L779 227.85 L783.2 229.26 L787.41 230.76 L791.62 232.32 L795.82 233.94 L800.03 235.62 L804.23 237.33 L808.44 239.07 L812.65 240.83 L816.85 242.59 L821.06 244.35 L825.26 246.1 L829.47 247.82 L833.68 249.5 L837.88 251.14 L842.09 252.71 L846.3 254.22 L850.5 255.66 L854.71 257.01 L858.91 258.26 L863.12 259.42 L867.33 260.46 L871.53 261.39 L875.74 262.21 L879.95 262.9 L884.15 263.46 L888.36 263.89 L892.56 264.19 L896.77 264.36 L900.98 264.39 L905.18 264.29 L909.39 264.06 L913.59 263.7 L917.8 263.21 L922.01 262.6 L926.21 261.87 L930.42 261.03 L934.63 260.07 L938.83 259.02 L943.04 257.87 L947.24 256.63 L951.45 255.31 L955.66 253.92 L959.86 252.47 L964.07 250.96 L968.27 249.4 L972.48 247.8 L976.69 246.17 L980.89 244.52 L985.1 242.86 L989.31 241.19 L993.51 239.53 L997.72 237.88 L1001.92 236.24 L1006.13 234.63 L1010.34 233.06 L1014.54 231.53 L1018.75 230.04 L1022.96 228.6 L1027.16 227.22 L1031.37 225.91 L1035.57 224.66 L1039.78 223.48 L1043.99 222.37 L1048.19 221.34 L1052.4 220.39 L1056.6 219.52 L1060.81 218.72 L1065.02 218.01 L1069.22 217.39 L1073.43 216.84 L1077.64 216.38 L1081.84 215.99 L1086.05 215.69 L1090.25 215.46 L1094.46 215.3 L1098.67 215.22 L1102.87 215.21 L1107.08 215.27 L1111.28 215.39 L1115.49 215.57 L1119.7 215.81 L1123.9 216.11 L1128.11 216.45 L1132.32 216.84 L1136.52 217.28 L1140.73 217.75 L1144.93 218.26 L1149.14 218.8 L1153.35 219.37 L1157.55 219.96 L1161.76 220.57 L1165.97 221.21 L1170.17 221.85 L1174.38 222.51 L1178.58 223.18 L1182.79 223.85 L1187 224.52 L1191.2 225.2 L1195.41 225.87 L1199.61 226.54 L1203.82 227.2 L1208.03 227.86 L1212.23 228.5 L1216.44 229.13 L1220.65 229.75 L1224.85 230.36 L1229.06 230.95 L1233.26 231.52 L1237.47 232.08 L1241.68 232.62 L1245.88 233.14 L1250.09 233.64 L1254.29 234.13 L1258.5 234.59 L1262.71 235.04 L1266.91 235.47 L1271.12 235.87 L1275.33 236.26 L1279.53 236.63 L1283.74 236.99 L1287.94 237.32 L1292.15 237.64 L1296.36 237.94 L1300.56 238.22 L1304.77 238.49 L1308.98 238.74 L1313.18 238.97 L1317.39 239.19 L1321.59 239.4 L1325.8 239.6" fill="none" stroke="#000" stroke-width="1.85" stroke-linecap="square"/>
<path d="M236.4 174.41 L240.61 174.28 L244.81 174.13 L249.02 173.98 L253.22 173.82 L257.43 173.64 L261.64 173.45 L265.84 173.25 L270.05 173.03 L274.26 172.8 L278.46 172.55 L282.67 172.28 L286.87 172 L291.08 171.7 L295.29 171.39 L299.49 171.05 L303.7 170.7 L307.91 170.33 L312.11 169.93 L316.32 169.52 L320.52 169.09 L324.73 168.64 L328.94 168.16 L333.14 167.67 L337.35 167.16 L341.55 166.63 L345.76 166.08 L349.97 165.51 L354.17 164.92 L358.38 164.32 L362.59 163.7 L366.79 163.06 L371 162.41 L375.2 161.75 L379.41 161.09 L383.62 160.41 L387.82 159.73 L392.03 159.04 L396.23 158.35 L400.44 157.67 L404.65 156.99 L408.85 156.32 L413.06 155.66 L417.27 155.01 L421.47 154.39 L425.68 153.79 L429.88 153.21 L434.09 152.66 L438.3 152.15 L442.5 151.67 L446.71 151.24 L450.92 150.86 L455.12 150.53 L459.33 150.25 L463.53 150.03 L467.74 149.87 L471.95 149.79 L476.15 149.77 L480.36 149.83 L484.56 149.96 L488.77 150.18 L492.98 150.47 L497.18 150.86 L501.39 151.33 L505.6 151.88 L509.8 152.53 L514.01 153.27 L518.21 154.09 L522.42 155 L526.63 156 L530.83 157.09 L535.04 158.25 L539.24 159.5 L543.45 160.82 L547.66 162.21 L551.86 163.66 L556.07 165.18 L560.28 166.75 L564.48 168.36 L568.69 170.02 L572.89 171.7 L577.1 173.41 L581.31 175.13 L585.51 176.85 L589.72 178.57 L593.93 180.27 L598.13 181.94 L602.34 183.58 L606.54 185.17 L610.75 186.71 L614.96 188.18 L619.16 189.57 L623.37 190.87 L627.57 192.08 L631.78 193.18 L635.99 194.17 L640.19 195.04 L644.4 195.78 L648.61 196.39 L652.81 196.85 L657.02 197.18 L661.22 197.35 L665.43 197.37 L669.64 197.25 L673.84 196.97 L678.05 196.54 L682.25 195.96 L686.46 195.23 L690.67 194.37 L694.87 193.36 L699.08 192.23 L703.29 190.97 L707.49 189.61 L711.7 188.13 L715.9 186.57 L720.11 184.92 L724.32 183.2 L728.52 181.43 L732.73 179.61 L736.94 177.77 L741.14 175.91 L745.35 174.04 L749.55 172.2 L753.76 170.38 L757.97 168.6 L762.17 166.88 L766.38 165.23 L770.58 163.66 L774.79 162.19 L779 160.83 L783.2 159.59 L787.41 158.48 L791.62 157.5 L795.82 156.67 L800.03 156 L804.23 155.49 L808.44 155.13 L812.65 154.95 L816.85 154.93 L821.06 155.08 L825.26 155.4 L829.47 155.88 L833.68 156.52 L837.88 157.31 L842.09 158.25 L846.3 159.34 L850.5 160.55 L854.71 161.89 L858.91 163.34 L863.12 164.88 L867.33 166.52 L871.53 168.22 L875.74 169.99 L879.95 171.8 L884.15 173.65 L888.36 175.51 L892.56 177.37 L896.77 179.22 L900.98 181.05 L905.18 182.83 L909.39 184.56 L913.59 186.22 L917.8 187.81 L922.01 189.3 L926.21 190.69 L930.42 191.97 L934.63 193.13 L938.83 194.16 L943.04 195.06 L947.24 195.81 L951.45 196.43 L955.66 196.89 L959.86 197.2 L964.07 197.36 L968.27 197.37 L972.48 197.23 L976.69 196.93 L980.89 196.5 L985.1 195.92 L989.31 195.21 L993.51 194.37 L997.72 193.4 L1001.92 192.33 L1006.13 191.14 L1010.34 189.86 L1014.54 188.48 L1018.75 187.03 L1022.96 185.51 L1027.16 183.93 L1031.37 182.3 L1035.57 180.63 L1039.78 178.93 L1043.99 177.22 L1048.19 175.5 L1052.4 173.78 L1056.6 172.07 L1060.81 170.38 L1065.02 168.71 L1069.22 167.09 L1073.43 165.51 L1077.64 163.98 L1081.84 162.52 L1086.05 161.11 L1090.25 159.77 L1094.46 158.51 L1098.67 157.33 L1102.87 156.23 L1107.08 155.21 L1111.28 154.28 L1115.49 153.44 L1119.7 152.68 L1123.9 152.02 L1128.11 151.44 L1132.32 150.95 L1136.52 150.55 L1140.73 150.23 L1144.93 150 L1149.14 149.85 L1153.35 149.78 L1157.55 149.78 L1161.76 149.85 L1165.97 149.99 L1170.17 150.2 L1174.38 150.46 L1178.58 150.78 L1182.79 151.16 L1187 151.58 L1191.2 152.04 L1195.41 152.55 L1199.61 153.09 L1203.82 153.66 L1208.03 154.26 L1212.23 154.88 L1216.44 155.52 L1220.65 156.18 L1224.85 156.85 L1229.06 157.52 L1233.26 158.21 L1237.47 158.89 L1241.68 159.58 L1245.88 160.26 L1250.09 160.94 L1254.29 161.61 L1258.5 162.27 L1262.71 162.92 L1266.91 163.56 L1271.12 164.18 L1275.33 164.79 L1279.53 165.38 L1283.74 165.96 L1287.94 166.51 L1292.15 167.05 L1296.36 167.56 L1300.56 168.06 L1304.77 168.54 L1308.98 168.99 L1313.18 169.43 L1317.39 169.85 L1321.59 170.24 L1325.8 170.62" fill="none" stroke="#000" stroke-width="1.85" stroke-linecap="square"/>
<path d="M160.9 1186.13 L164.75 1186.11 L168.6 1186.09 L172.44 1186.07 L176.29 1186.04 L180.14 1186.02 L183.99 1185.99 L187.84 1185.96 L191.68 1185.93 L195.53 1185.89 L199.38 1185.85 L203.23 1185.81 L207.07 1185.76 L210.92 1185.71 L214.77 1185.66 L218.62 1185.6 L222.47 1185.54 L226.31 1185.47 L230.16 1185.4 L234.01 1185.33 L237.86 1185.24 L241.71 1185.15 L245.55 1185.06 L249.4 1184.96 L253.25 1184.85 L257.1 1184.73 L260.94 1184.61 L264.79 1184.48 L268.64 1184.34 L272.49 1184.19 L276.34 1184.03 L280.18 1183.86 L284.03 1183.68 L287.88 1183.49 L291.73 1183.29 L295.58 1183.08 L299.42 1182.86 L303.27 1182.63 L307.12 1182.38 L310.97 1182.12 L314.82 1181.84 L318.66 1181.56 L322.51 1181.25 L326.36 1180.94 L330.21 1180.61 L334.05 1180.26 L337.9 1179.9 L341.75 1179.53 L345.6 1179.14 L349.45 1178.73 L353.29 1178.31 L357.14 1177.87 L360.99 1177.41 L364.84 1176.94 L368.69 1176.46 L372.53 1175.95 L376.38 1175.43 L380.23 1174.9 L384.08 1174.35 L387.92 1173.78 L391.77 1173.2 L395.62 1172.61 L399.47 1172 L403.32 1171.38 L407.16 1170.74 L411.01 1170.09 L414.86 1169.43 L418.71 1168.76 L422.56 1168.08 L426.4 1167.39 L430.25 1166.69 L434.1 1165.99 L437.95 1165.28 L441.79 1164.56 L445.64 1163.84 L449.49 1163.11 L453.34 1162.38 L457.19 1161.66 L461.03 1160.93 L464.88 1160.21 L468.73 1159.49 L472.58 1158.77 L476.43 1158.06 L480.27 1157.36 L484.12 1156.67 L487.97 1155.99 L491.82 1155.32 L495.67 1154.66 L499.51 1154.02 L503.36 1153.4 L507.21 1152.8 L511.06 1152.21 L514.9 1151.65 L518.75 1151.11 L522.6 1150.59 L526.45 1150.1 L530.3 1149.63 L534.14 1149.2 L537.99 1148.79 L541.84 1148.41 L545.69 1148.06 L549.54 1147.74 L553.38 1147.45 L557.23 1147.2 L561.08 1146.99 L564.93 1146.8 L568.77 1146.65 L572.62 1146.54 L576.47 1146.46 L580.32 1146.42 L584.17 1146.42 L588.01 1146.45 L591.86 1146.52 L595.71 1146.62 L599.56 1146.76 L603.41 1146.93 L607.25 1147.14 L611.1 1147.38 L614.95 1147.65 L618.8 1147.96 L622.65 1148.3 L626.49 1148.67 L630.34 1149.07 L634.19 1149.5 L638.04 1149.96 L641.88 1150.45 L645.73 1150.96 L649.58 1151.49 L653.43 1152.05 L657.28 1152.63 L661.12 1153.22 L664.97 1153.84 L668.82 1154.48 L672.67 1155.13 L676.52 1155.79 L680.36 1156.47 L684.21 1157.16 L688.06 1157.86 L691.91 1158.56 L695.75 1159.28 L699.6 1160 L703.45 1160.72 L707.3 1161.45 L711.15 1162.17 L714.99 1162.9 L718.84 1163.63 L722.69 1164.35 L726.54 1165.07 L730.39 1165.78 L734.23 1166.49 L738.08 1167.19 L741.93 1167.88 L745.78 1168.57 L749.63 1169.24 L753.47 1169.9 L757.32 1170.56 L761.17 1171.19 L765.02 1171.82 L768.86 1172.43 L772.71 1173.03 L776.56 1173.62 L780.41 1174.19 L784.26 1174.74 L788.1 1175.28 L791.95 1175.8 L795.8 1176.31 L799.65 1176.8 L803.5 1177.28 L807.34 1177.74 L811.19 1178.18 L815.04 1178.61 L818.89 1179.02 L822.73 1179.42 L826.58 1179.8 L830.43 1180.16 L834.28 1180.51 L838.13 1180.85 L841.97 1181.16 L845.82 1181.47 L849.67 1181.76 L853.52 1182.04 L857.37 1182.3 L861.21 1182.55 L865.06 1182.79 L868.91 1183.02 L872.76 1183.23 L876.61 1183.44 L880.45 1183.63 L884.3 1183.81 L888.15 1183.98 L892 1184.14 L895.84 1184.3 L899.69 1184.44 L903.54 1184.57 L907.39 1184.7 L911.24 1184.82 L915.08 1184.93 L918.93 1185.03 L922.78 1185.13 L926.63 1185.22 L930.48 1185.3 L934.32 1185.38 L938.17 1185.45 L942.02 1185.52 L945.87 1185.59 L949.71 1185.64 L953.56 1185.7 L957.41 1185.75 L961.26 1185.8 L965.11 1185.84 L968.95 1185.88 L972.8 1185.92 L976.65 1185.95 L980.5 1185.98 L984.35 1186.01 L988.19 1186.04 L992.04 1186.06 L995.89 1186.08 L999.74 1186.1 L1003.58 1186.12 L1007.43 1186.14 L1011.28 1186.15 L1015.13 1186.17 L1018.98 1186.18 L1022.82 1186.19 L1026.67 1186.2 L1030.52 1186.21 L1034.37 1186.22 L1038.22 1186.23 L1042.06 1186.24 L1045.91 1186.24 L1049.76 1186.25 L1053.61 1186.25 L1057.46 1186.26 L1061.3 1186.26 L1065.15 1186.27 L1069 1186.27 L1072.85 1186.27 L1076.69 1186.28 L1080.54 1186.28 L1084.39 1186.28 L1088.24 1186.28 L1092.09 1186.29 L1095.93 1186.29 L1099.78 1186.29 L1103.63 1186.29 L1107.48 1186.29 L1111.33 1186.29 L1115.17 1186.29 L1119.02 1186.29 L1122.87 1186.29 L1126.72 1186.3 L1130.56 1186.3 L1134.41 1186.3 L1138.26 1186.3 L1142.11 1186.3 L1145.96 1186.3 L1149.8 1186.3 L1153.65 1186.3 L1157.5 1186.3" fill="none" stroke="#000" stroke-width="1.85" stroke-linecap="square"/>
<path d="M160.9 1107.86 L164.75 1107.94 L168.6 1108.02 L172.44 1108.11 L176.29 1108.21 L180.14 1108.31 L183.99 1108.42 L187.84 1108.54 L191.68 1108.67 L195.53 1108.81 L199.38 1108.95 L203.23 1109.11 L207.07 1109.28 L210.92 1109.46 L214.77 1109.65 L218.62 1109.85 L222.47 1110.07 L226.31 1110.3 L230.16 1110.54 L234.01 1110.8 L237.86 1111.08 L241.71 1111.37 L245.55 1111.67 L249.4 1111.99 L253.25 1112.33 L257.1 1112.69 L260.94 1113.06 L264.79 1113.45 L268.64 1113.86 L272.49 1114.29 L276.34 1114.74 L280.18 1115.2 L284.03 1115.69 L287.88 1116.19 L291.73 1116.72 L295.58 1117.26 L299.42 1117.82 L303.27 1118.4 L307.12 1119 L310.97 1119.61 L314.82 1120.24 L318.66 1120.89 L322.51 1121.56 L326.36 1122.24 L330.21 1122.93 L334.05 1123.64 L337.9 1124.36 L341.75 1125.09 L345.6 1125.82 L349.45 1126.57 L353.29 1127.32 L357.14 1128.07 L360.99 1128.83 L364.84 1129.58 L368.69 1130.34 L372.53 1131.09 L376.38 1131.83 L380.23 1132.57 L384.08 1133.29 L387.92 1134 L391.77 1134.69 L395.62 1135.36 L399.47 1136.02 L403.32 1136.64 L407.16 1137.24 L411.01 1137.81 L414.86 1138.34 L418.71 1138.84 L422.56 1139.3 L426.4 1139.72 L430.25 1140.09 L434.1 1140.42 L437.95 1140.7 L441.79 1140.92 L445.64 1141.09 L449.49 1141.2 L453.34 1141.26 L457.19 1141.25 L461.03 1141.18 L464.88 1141.04 L468.73 1140.84 L472.58 1140.57 L476.43 1140.24 L480.27 1139.83 L484.12 1139.36 L487.97 1138.81 L491.82 1138.19 L495.67 1137.51 L499.51 1136.75 L503.36 1135.92 L507.21 1135.03 L511.06 1134.07 L514.9 1133.04 L518.75 1131.95 L522.6 1130.8 L526.45 1129.59 L530.3 1128.32 L534.14 1127 L537.99 1125.62 L541.84 1124.2 L545.69 1122.73 L549.54 1121.22 L553.38 1119.68 L557.23 1118.09 L561.08 1116.48 L564.93 1114.85 L568.77 1113.19 L572.62 1111.52 L576.47 1109.84 L580.32 1108.14 L584.17 1106.45 L588.01 1104.75 L591.86 1103.07 L595.71 1101.39 L599.56 1099.73 L603.41 1098.09 L607.25 1096.47 L611.1 1094.88 L614.95 1093.32 L618.8 1091.8 L622.65 1090.32 L626.49 1088.89 L630.34 1087.5 L634.19 1086.16 L638.04 1084.87 L641.88 1083.64 L645.73 1082.47 L649.58 1081.37 L653.43 1080.32 L657.28 1079.34 L661.12 1078.43 L664.97 1077.58 L668.82 1076.81 L672.67 1076.1 L676.52 1075.46 L680.36 1074.9 L684.21 1074.4 L688.06 1073.97 L691.91 1073.62 L695.75 1073.33 L699.6 1073.11 L703.45 1072.95 L707.3 1072.86 L711.15 1072.84 L714.99 1072.87 L718.84 1072.97 L722.69 1073.12 L726.54 1073.33 L730.39 1073.59 L734.23 1073.91 L738.08 1074.27 L741.93 1074.67 L745.78 1075.12 L749.63 1075.61 L753.47 1076.13 L757.32 1076.69 L761.17 1077.28 L765.02 1077.9 L768.86 1078.54 L772.71 1079.21 L776.56 1079.9 L780.41 1080.6 L784.26 1081.32 L788.1 1082.05 L791.95 1082.79 L795.8 1083.54 L799.65 1084.3 L803.5 1085.05 L807.34 1085.81 L811.19 1086.56 L815.04 1087.32 L818.89 1088.06 L822.73 1088.8 L826.58 1089.53 L830.43 1090.25 L834.28 1090.96 L838.13 1091.66 L841.97 1092.35 L845.82 1093.02 L849.67 1093.67 L853.52 1094.31 L857.37 1094.93 L861.21 1095.53 L865.06 1096.11 L868.91 1096.68 L872.76 1097.23 L876.61 1097.76 L880.45 1098.27 L884.3 1098.76 L888.15 1099.23 L892 1099.68 L895.84 1100.12 L899.69 1100.53 L903.54 1100.93 L907.39 1101.31 L911.24 1101.67 L915.08 1102.01 L918.93 1102.34 L922.78 1102.65 L926.63 1102.94 L930.48 1103.22 L934.32 1103.48 L938.17 1103.73 L942.02 1103.97 L945.87 1104.19 L949.71 1104.39 L953.56 1104.59 L957.41 1104.77 L961.26 1104.94 L965.11 1105.1 L968.95 1105.25 L972.8 1105.39 L976.65 1105.52 L980.5 1105.65 L984.35 1105.76 L988.19 1105.86 L992.04 1105.96 L995.89 1106.05 L999.74 1106.14 L1003.58 1106.22 L1007.43 1106.29 L1011.28 1106.35 L1015.13 1106.42 L1018.98 1106.47 L1022.82 1106.52 L1026.67 1106.57 L1030.52 1106.62 L1034.37 1106.66 L1038.22 1106.69 L1042.06 1106.73 L1045.91 1106.76 L1049.76 1106.78 L1053.61 1106.81 L1057.46 1106.83 L1061.3 1106.86 L1065.15 1106.87 L1069 1106.89 L1072.85 1106.91 L1076.69 1106.92 L1080.54 1106.94 L1084.39 1106.95 L1088.24 1106.96 L1092.09 1106.97 L1095.93 1106.98 L1099.78 1106.98 L1103.63 1106.99 L1107.48 1107 L1111.33 1107 L1115.17 1107.01 L1119.02 1107.01 L1122.87 1107.02 L1126.72 1107.02 L1130.56 1107.02 L1134.41 1107.03 L1138.26 1107.03 L1142.11 1107.03 L1145.96 1107.03 L1149.8 1107.04 L1153.65 1107.04 L1157.5 1107.04" fill="none" stroke="#000" stroke-width="1.85" stroke-linecap="square"/>
<path d="M160.9 1025.24 L164.75 1025.03 L168.6 1024.81 L172.44 1024.57 L176.29 1024.31 L180.14 1024.04 L183.99 1023.75 L187.84 1023.44 L191.68 1023.12 L195.53 1022.78 L199.38 1022.42 L203.23 1022.04 L207.07 1021.64 L210.92 1021.22 L214.77 1020.78 L218.62 1020.32 L222.47 1019.84 L226.31 1019.33 L230.16 1018.81 L234.01 1018.26 L237.86 1017.7 L241.71 1017.11 L245.55 1016.5 L249.4 1015.88 L253.25 1015.23 L257.1 1014.57 L260.94 1013.88 L264.79 1013.19 L268.64 1012.47 L272.49 1011.74 L276.34 1011 L280.18 1010.25 L284.03 1009.49 L287.88 1008.72 L291.73 1007.95 L295.58 1007.17 L299.42 1006.39 L303.27 1005.61 L307.12 1004.84 L310.97 1004.08 L314.82 1003.33 L318.66 1002.59 L322.51 1001.86 L326.36 1001.16 L330.21 1000.48 L334.05 999.83 L337.9 999.21 L341.75 998.62 L345.6 998.08 L349.45 997.57 L353.29 997.11 L357.14 996.7 L360.99 996.34 L364.84 996.04 L368.69 995.8 L372.53 995.63 L376.38 995.52 L380.23 995.48 L384.08 995.51 L387.92 995.62 L391.77 995.81 L395.62 996.08 L399.47 996.42 L403.32 996.86 L407.16 997.37 L411.01 997.98 L414.86 998.67 L418.71 999.44 L422.56 1000.3 L426.4 1001.25 L430.25 1002.28 L434.1 1003.4 L437.95 1004.59 L441.79 1005.86 L445.64 1007.21 L449.49 1008.63 L453.34 1010.11 L457.19 1011.66 L461.03 1013.27 L464.88 1014.93 L468.73 1016.64 L472.58 1018.4 L476.43 1020.19 L480.27 1022.01 L484.12 1023.85 L487.97 1025.7 L491.82 1027.57 L495.67 1029.44 L499.51 1031.3 L503.36 1033.14 L507.21 1034.97 L511.06 1036.76 L514.9 1038.51 L518.75 1040.22 L522.6 1041.88 L526.45 1043.48 L530.3 1045 L534.14 1046.45 L537.99 1047.83 L541.84 1049.11 L545.69 1050.3 L549.54 1051.38 L553.38 1052.37 L557.23 1053.24 L561.08 1054 L564.93 1054.64 L568.77 1055.16 L572.62 1055.56 L576.47 1055.83 L580.32 1055.98 L584.17 1055.99 L588.01 1055.89 L591.86 1055.65 L595.71 1055.29 L599.56 1054.8 L603.41 1054.2 L607.25 1053.47 L611.1 1052.63 L614.95 1051.68 L618.8 1050.62 L622.65 1049.46 L626.49 1048.21 L630.34 1046.86 L634.19 1045.43 L638.04 1043.93 L641.88 1042.35 L645.73 1040.71 L649.58 1039.01 L653.43 1037.27 L657.28 1035.49 L661.12 1033.67 L664.97 1031.83 L668.82 1029.98 L672.67 1028.11 L676.52 1026.24 L680.36 1024.38 L684.21 1022.54 L688.06 1020.71 L691.91 1018.91 L695.75 1017.15 L699.6 1015.42 L703.45 1013.75 L707.3 1012.12 L711.15 1010.56 L714.99 1009.05 L718.84 1007.61 L722.69 1006.24 L726.54 1004.95 L730.39 1003.73 L734.23 1002.6 L738.08 1001.54 L741.93 1000.57 L745.78 999.68 L749.63 998.88 L753.47 998.17 L757.32 997.54 L761.17 997 L765.02 996.54 L768.86 996.17 L772.71 995.88 L776.56 995.67 L780.41 995.54 L784.26 995.48 L788.1 995.5 L791.95 995.59 L795.8 995.75 L799.65 995.97 L803.5 996.25 L807.34 996.59 L811.19 996.99 L815.04 997.43 L818.89 997.93 L822.73 998.46 L826.58 999.04 L830.43 999.65 L834.28 1000.29 L838.13 1000.96 L841.97 1001.66 L845.82 1002.38 L849.67 1003.11 L853.52 1003.86 L857.37 1004.62 L861.21 1005.39 L865.06 1006.17 L868.91 1006.94 L872.76 1007.72 L876.61 1008.5 L880.45 1009.27 L884.3 1010.03 L888.15 1010.79 L892 1011.53 L895.84 1012.26 L899.69 1012.98 L903.54 1013.68 L907.39 1014.37 L911.24 1015.04 L915.08 1015.69 L918.93 1016.32 L922.78 1016.94 L926.63 1017.53 L930.48 1018.1 L934.32 1018.65 L938.17 1019.18 L942.02 1019.69 L945.87 1020.18 L949.71 1020.65 L953.56 1021.09 L957.41 1021.52 L961.26 1021.92 L965.11 1022.31 L968.95 1022.68 L972.8 1023.02 L976.65 1023.35 L980.5 1023.66 L984.35 1023.96 L988.19 1024.23 L992.04 1024.49 L995.89 1024.74 L999.74 1024.97 L1003.58 1025.18 L1007.43 1025.38 L1011.28 1025.57 L1015.13 1025.75 L1018.98 1025.91 L1022.82 1026.07 L1026.67 1026.21 L1030.52 1026.34 L1034.37 1026.46 L1038.22 1026.58 L1042.06 1026.68 L1045.91 1026.78 L1049.76 1026.87 L1053.61 1026.95 L1057.46 1027.03 L1061.3 1027.1 L1065.15 1027.16 L1069 1027.22 L1072.85 1027.28 L1076.69 1027.33 L1080.54 1027.37 L1084.39 1027.41 L1088.24 1027.45 L1092.09 1027.48 L1095.93 1027.52 L1099.78 1027.54 L1103.63 1027.57 L1107.48 1027.59 L1111.33 1027.61 L1115.17 1027.63 L1119.02 1027.65 L1122.87 1027.67 L1126.72 1027.68 L1130.56 1027.69 L1134.41 1027.71 L1138.26 1027.72 L1142.11 1027.73 L1145.96 1027.73 L1149.8 1027.74 L1153.65 1027.75 L1157.5 1027.75" fill="none" stroke="#000" stroke-width="1.85" stroke-linecap="square"/>
<path d="M160.9 954.77 L164.75 955.21 L168.6 955.67 L172.44 956.15 L176.29 956.66 L180.14 957.18 L183.99 957.73 L187.84 958.31 L191.68 958.9 L195.53 959.52 L199.38 960.16 L203.23 960.82 L207.07 961.5 L210.92 962.2 L214.77 962.91 L218.62 963.64 L222.47 964.39 L226.31 965.15 L230.16 965.92 L234.01 966.7 L237.86 967.49 L241.71 968.28 L245.55 969.08 L249.4 969.87 L253.25 970.66 L257.1 971.44 L260.94 972.21 L264.79 972.97 L268.64 973.71 L272.49 974.42 L276.34 975.11 L280.18 975.77 L284.03 976.39 L287.88 976.98 L291.73 977.52 L295.58 978.02 L299.42 978.46 L303.27 978.84 L307.12 979.17 L310.97 979.42 L314.82 979.61 L318.66 979.73 L322.51 979.77 L326.36 979.72 L330.21 979.6 L334.05 979.38 L337.9 979.08 L341.75 978.69 L345.6 978.2 L349.45 977.61 L353.29 976.93 L357.14 976.15 L360.99 975.27 L364.84 974.3 L368.69 973.23 L372.53 972.07 L376.38 970.82 L380.23 969.48 L384.08 968.05 L387.92 966.55 L391.77 964.96 L395.62 963.31 L399.47 961.59 L403.32 959.81 L407.16 957.99 L411.01 956.11 L414.86 954.21 L418.71 952.27 L422.56 950.32 L426.4 948.36 L430.25 946.4 L434.1 944.45 L437.95 942.52 L441.79 940.63 L445.64 938.77 L449.49 936.97 L453.34 935.23 L457.19 933.56 L461.03 931.97 L464.88 930.47 L468.73 929.08 L472.58 927.79 L476.43 926.62 L480.27 925.57 L484.12 924.66 L487.97 923.89 L491.82 923.26 L495.67 922.77 L499.51 922.44 L503.36 922.27 L507.21 922.25 L511.06 922.39 L514.9 922.69 L518.75 923.14 L522.6 923.75 L526.45 924.51 L530.3 925.42 L534.14 926.47 L537.99 927.66 L541.84 928.98 L545.69 930.42 L549.54 931.97 L553.38 933.63 L557.23 935.38 L561.08 937.22 L564.93 939.12 L568.77 941.09 L572.62 943.1 L576.47 945.14 L580.32 947.21 L584.17 949.29 L588.01 951.36 L591.86 953.41 L595.71 955.44 L599.56 957.41 L603.41 959.34 L607.25 961.19 L611.1 962.97 L614.95 964.66 L618.8 966.24 L622.65 967.71 L626.49 969.07 L630.34 970.3 L634.19 971.39 L638.04 972.34 L641.88 973.14 L645.73 973.8 L649.58 974.3 L653.43 974.64 L657.28 974.83 L661.12 974.85 L664.97 974.72 L668.82 974.44 L672.67 974 L676.52 973.41 L680.36 972.68 L684.21 971.8 L688.06 970.8 L691.91 969.66 L695.75 968.41 L699.6 967.04 L703.45 965.58 L707.3 964.01 L711.15 962.37 L714.99 960.64 L718.84 958.86 L722.69 957.02 L726.54 955.13 L730.39 953.21 L734.23 951.27 L738.08 949.31 L741.93 947.35 L745.78 945.39 L749.63 943.45 L753.47 941.53 L757.32 939.65 L761.17 937.81 L765.02 936.02 L768.86 934.28 L772.71 932.61 L776.56 931 L780.41 929.47 L784.26 928.02 L788.1 926.66 L791.95 925.38 L795.8 924.19 L799.65 923.1 L803.5 922.1 L807.34 921.19 L811.19 920.39 L815.04 919.68 L818.89 919.06 L822.73 918.55 L826.58 918.12 L830.43 917.79 L834.28 917.55 L838.13 917.4 L841.97 917.34 L845.82 917.35 L849.67 917.45 L853.52 917.61 L857.37 917.85 L861.21 918.16 L865.06 918.53 L868.91 918.95 L872.76 919.43 L876.61 919.96 L880.45 920.53 L884.3 921.14 L888.15 921.79 L892 922.48 L895.84 923.18 L899.69 923.92 L903.54 924.67 L907.39 925.43 L911.24 926.21 L915.08 927 L918.93 927.79 L922.78 928.59 L926.63 929.38 L930.48 930.17 L934.32 930.95 L938.17 931.73 L942.02 932.49 L945.87 933.24 L949.71 933.98 L953.56 934.7 L957.41 935.4 L961.26 936.09 L965.11 936.75 L968.95 937.4 L972.8 938.02 L976.65 938.62 L980.5 939.2 L984.35 939.76 L988.19 940.29 L992.04 940.81 L995.89 941.3 L999.74 941.76 L1003.58 942.21 L1007.43 942.63 L1011.28 943.03 L1015.13 943.41 L1018.98 943.77 L1022.82 944.11 L1026.67 944.44 L1030.52 944.74 L1034.37 945.02 L1038.22 945.29 L1042.06 945.54 L1045.91 945.77 L1049.76 945.99 L1053.61 946.2 L1057.46 946.39 L1061.3 946.57 L1065.15 946.73 L1069 946.89 L1072.85 947.03 L1076.69 947.16 L1080.54 947.28 L1084.39 947.39 L1088.24 947.5 L1092.09 947.59 L1095.93 947.68 L1099.78 947.76 L1103.63 947.83 L1107.48 947.9 L1111.33 947.96 L1115.17 948.02 L1119.02 948.07 L1122.87 948.12 L1126.72 948.16 L1130.56 948.2 L1134.41 948.24 L1138.26 948.27 L1142.11 948.3 L1145.96 948.32 L1149.8 948.35 L1153.65 948.37 L1157.5 948.39" fill="none" stroke="#000" stroke-width="1.85" stroke-linecap="square"/>
<path d="M160.9 857.02 L164.75 856.33 L168.6 855.61 L172.44 854.87 L176.29 854.12 L180.14 853.35 L183.99 852.57 L187.84 851.78 L191.68 850.98 L195.53 850.18 L199.38 849.37 L203.23 848.56 L207.07 847.76 L210.92 846.97 L214.77 846.18 L218.62 845.41 L222.47 844.66 L226.31 843.94 L230.16 843.24 L234.01 842.58 L237.86 841.95 L241.71 841.37 L245.55 840.84 L249.4 840.36 L253.25 839.93 L257.1 839.57 L260.94 839.28 L264.79 839.06 L268.64 838.92 L272.49 838.85 L276.34 838.88 L280.18 838.99 L284.03 839.2 L287.88 839.51 L291.73 839.91 L295.58 840.41 L299.42 841.02 L303.27 841.74 L307.12 842.56 L310.97 843.48 L314.82 844.51 L318.66 845.64 L322.51 846.87 L326.36 848.21 L330.21 849.63 L334.05 851.15 L337.9 852.75 L341.75 854.44 L345.6 856.19 L349.45 858.02 L353.29 859.9 L357.14 861.83 L360.99 863.79 L364.84 865.79 L368.69 867.81 L372.53 869.84 L376.38 871.86 L380.23 873.87 L384.08 875.85 L387.92 877.79 L391.77 879.68 L395.62 881.51 L399.47 883.26 L403.32 884.93 L407.16 886.49 L411.01 887.95 L414.86 889.28 L418.71 890.48 L422.56 891.54 L426.4 892.46 L430.25 893.21 L434.1 893.8 L437.95 894.22 L441.79 894.47 L445.64 894.54 L449.49 894.43 L453.34 894.15 L457.19 893.68 L461.03 893.04 L464.88 892.22 L468.73 891.23 L472.58 890.08 L476.43 888.78 L480.27 887.33 L484.12 885.75 L487.97 884.04 L491.82 882.21 L495.67 880.29 L499.51 878.28 L503.36 876.21 L507.21 874.08 L511.06 871.91 L514.9 869.72 L518.75 867.53 L522.6 865.35 L526.45 863.21 L530.3 861.11 L534.14 859.08 L537.99 857.13 L541.84 855.28 L545.69 853.54 L549.54 851.92 L553.38 850.45 L557.23 849.13 L561.08 847.97 L564.93 846.99 L568.77 846.18 L572.62 845.57 L576.47 845.14 L580.32 844.92 L584.17 844.89 L588.01 845.06 L591.86 845.42 L595.71 845.99 L599.56 846.73 L603.41 847.67 L607.25 848.78 L611.1 850.05 L614.95 851.48 L618.8 853.05 L622.65 854.76 L626.49 856.58 L630.34 858.5 L634.19 860.51 L638.04 862.59 L641.88 864.73 L645.73 866.9 L649.58 869.09 L653.43 871.28 L657.28 873.45 L661.12 875.59 L664.97 877.69 L668.82 879.72 L672.67 881.66 L676.52 883.52 L680.36 885.26 L684.21 886.89 L688.06 888.38 L691.91 889.72 L695.75 890.92 L699.6 891.95 L703.45 892.82 L707.3 893.51 L711.15 894.03 L714.99 894.37 L718.84 894.53 L722.69 894.51 L726.54 894.31 L730.39 893.94 L734.23 893.4 L738.08 892.69 L741.93 891.82 L745.78 890.81 L749.63 889.64 L753.47 888.35 L757.32 886.93 L761.17 885.39 L765.02 883.76 L768.86 882.03 L772.71 880.22 L776.56 878.35 L780.41 876.42 L784.26 874.45 L788.1 872.44 L791.95 870.42 L795.8 868.4 L799.65 866.38 L803.5 864.37 L807.34 862.39 L811.19 860.45 L815.04 858.56 L818.89 856.72 L822.73 854.94 L826.58 853.23 L830.43 851.61 L834.28 850.06 L838.13 848.61 L841.97 847.25 L845.82 845.99 L849.67 844.83 L853.52 843.77 L857.37 842.81 L861.21 841.96 L865.06 841.22 L868.91 840.58 L872.76 840.04 L876.61 839.61 L880.45 839.28 L884.3 839.04 L888.15 838.9 L892 838.85 L895.84 838.89 L899.69 839.01 L903.54 839.21 L907.39 839.48 L911.24 839.82 L915.08 840.23 L918.93 840.69 L922.78 841.21 L926.63 841.78 L930.48 842.39 L934.32 843.05 L938.17 843.73 L942.02 844.45 L945.87 845.19 L949.71 845.96 L953.56 846.74 L957.41 847.53 L961.26 848.33 L965.11 849.14 L968.95 849.94 L972.8 850.75 L976.65 851.55 L980.5 852.34 L984.35 853.13 L988.19 853.9 L992.04 854.66 L995.89 855.4 L999.74 856.12 L1003.58 856.82 L1007.43 857.51 L1011.28 858.17 L1015.13 858.81 L1018.98 859.43 L1022.82 860.02 L1026.67 860.59 L1030.52 861.14 L1034.37 861.66 L1038.22 862.16 L1042.06 862.63 L1045.91 863.08 L1049.76 863.51 L1053.61 863.92 L1057.46 864.3 L1061.3 864.67 L1065.15 865.01 L1069 865.33 L1072.85 865.63 L1076.69 865.91 L1080.54 866.18 L1084.39 866.43 L1088.24 866.66 L1092.09 866.88 L1095.93 867.08 L1099.78 867.26 L1103.63 867.44 L1107.48 867.6 L1111.33 867.75 L1115.17 867.88 L1119.02 868.01 L1122.87 868.13 L1126.72 868.24 L1130.56 868.33 L1134.41 868.42 L1138.26 868.51 L1142.11 868.58 L1145.96 868.65 L1149.8 868.72 L1153.65 868.77 L1157.5 868.83" fill="none" stroke="#000" stroke-width="1.85" stroke-linecap="square"/>
<path d="M160.9 810.08 L164.75 810.9 L168.6 811.71 L172.44 812.51 L176.29 813.29 L180.14 814.06 L183.99 814.8 L187.84 815.51 L191.68 816.19 L195.53 816.83 L199.38 817.42 L203.23 817.97 L207.07 818.45 L210.92 818.88 L214.77 819.24 L218.62 819.53 L222.47 819.74 L226.31 819.87 L230.16 819.91 L234.01 819.86 L237.86 819.72 L241.71 819.47 L245.55 819.12 L249.4 818.66 L253.25 818.09 L257.1 817.42 L260.94 816.63 L264.79 815.73 L268.64 814.71 L272.49 813.59 L276.34 812.36 L280.18 811.02 L284.03 809.58 L287.88 808.04 L291.73 806.41 L295.58 804.69 L299.42 802.89 L303.27 801.03 L307.12 799.1 L310.97 797.12 L314.82 795.09 L318.66 793.04 L322.51 790.97 L326.36 788.89 L330.21 786.83 L334.05 784.78 L337.9 782.76 L341.75 780.8 L345.6 778.89 L349.45 777.07 L353.29 775.33 L357.14 773.7 L360.99 772.18 L364.84 770.79 L368.69 769.55 L372.53 768.45 L376.38 767.52 L380.23 766.76 L384.08 766.17 L387.92 765.78 L391.77 765.57 L395.62 765.55 L399.47 765.74 L403.32 766.11 L407.16 766.69 L411.01 767.46 L414.86 768.41 L418.71 769.54 L422.56 770.85 L426.4 772.33 L430.25 773.95 L434.1 775.71 L437.95 777.6 L441.79 779.6 L445.64 781.69 L449.49 783.85 L453.34 786.07 L457.19 788.33 L461.03 790.6 L464.88 792.87 L468.73 795.11 L472.58 797.3 L476.43 799.43 L480.27 801.47 L484.12 803.4 L487.97 805.21 L491.82 806.87 L495.67 808.37 L499.51 809.7 L503.36 810.85 L507.21 811.79 L511.06 812.52 L514.9 813.04 L518.75 813.34 L522.6 813.4 L526.45 813.25 L530.3 812.86 L534.14 812.25 L537.99 811.43 L541.84 810.39 L545.69 809.16 L549.54 807.73 L553.38 806.13 L557.23 804.38 L561.08 802.48 L564.93 800.45 L568.77 798.33 L572.62 796.12 L576.47 793.85 L580.32 791.55 L584.17 789.23 L588.01 786.91 L591.86 784.63 L595.71 782.4 L599.56 780.25 L603.41 778.2 L607.25 776.26 L611.1 774.46 L614.95 772.81 L618.8 771.34 L622.65 770.05 L626.49 768.95 L630.34 768.06 L634.19 767.39 L638.04 766.94 L641.88 766.72 L645.73 766.72 L649.58 766.95 L653.43 767.4 L657.28 768.08 L661.12 768.96 L664.97 770.04 L668.82 771.32 L672.67 772.78 L676.52 774.4 L680.36 776.16 L684.21 778.06 L688.06 780.07 L691.91 782.18 L695.75 784.35 L699.6 786.58 L703.45 788.84 L707.3 791.11 L711.15 793.38 L714.99 795.61 L718.84 797.79 L722.69 799.9 L726.54 801.93 L730.39 803.85 L734.23 805.65 L738.08 807.32 L741.93 808.84 L745.78 810.19 L749.63 811.38 L753.47 812.39 L757.32 813.21 L761.17 813.84 L765.02 814.27 L768.86 814.51 L772.71 814.56 L776.56 814.4 L780.41 814.06 L784.26 813.53 L788.1 812.82 L791.95 811.94 L795.8 810.89 L799.65 809.68 L803.5 808.34 L807.34 806.85 L811.19 805.25 L815.04 803.55 L818.89 801.74 L822.73 799.86 L826.58 797.91 L830.43 795.91 L834.28 793.87 L838.13 791.81 L841.97 789.73 L845.82 787.66 L849.67 785.6 L853.52 783.57 L857.37 781.57 L861.21 779.63 L865.06 777.74 L868.91 775.92 L872.76 774.18 L876.61 772.52 L880.45 770.96 L884.3 769.49 L888.15 768.12 L892 766.85 L895.84 765.7 L899.69 764.65 L903.54 763.72 L907.39 762.9 L911.24 762.19 L915.08 761.59 L918.93 761.1 L922.78 760.72 L926.63 760.45 L930.48 760.27 L934.32 760.19 L938.17 760.21 L942.02 760.31 L945.87 760.5 L949.71 760.77 L953.56 761.11 L957.41 761.52 L961.26 761.99 L965.11 762.52 L968.95 763.1 L972.8 763.72 L976.65 764.39 L980.5 765.09 L984.35 765.83 L988.19 766.59 L992.04 767.37 L995.89 768.16 L999.74 768.97 L1003.58 769.78 L1007.43 770.6 L1011.28 771.42 L1015.13 772.23 L1018.98 773.04 L1022.82 773.84 L1026.67 774.63 L1030.52 775.4 L1034.37 776.15 L1038.22 776.89 L1042.06 777.61 L1045.91 778.31 L1049.76 778.98 L1053.61 779.63 L1057.46 780.26 L1061.3 780.87 L1065.15 781.45 L1069 782 L1072.85 782.53 L1076.69 783.03 L1080.54 783.51 L1084.39 783.97 L1088.24 784.4 L1092.09 784.81 L1095.93 785.19 L1099.78 785.56 L1103.63 785.9 L1107.48 786.22 L1111.33 786.52 L1115.17 786.8 L1119.02 787.06 L1122.87 787.31 L1126.72 787.54 L1130.56 787.75 L1134.41 787.94 L1138.26 788.13 L1142.11 788.3 L1145.96 788.45 L1149.8 788.6 L1153.65 788.73 L1157.5 788.85" fill="none" stroke="#000" stroke-width="1.85" stroke-linecap="square"/>
<path d="M160.9 683.89 L164.75 683.33 L168.6 682.84 L172.44 682.41 L176.29 682.04 L180.14 681.76 L183.99 681.55 L187.84 681.44 L191.68 681.41 L195.53 681.48 L199.38 681.66 L203.23 681.93 L207.07 682.32 L210.92 682.83 L214.77 683.44 L218.62 684.18 L222.47 685.03 L226.31 686 L230.16 687.09 L234.01 688.29 L237.86 689.61 L241.71 691.03 L245.55 692.57 L249.4 694.2 L253.25 695.92 L257.1 697.73 L260.94 699.62 L264.79 701.57 L268.64 703.59 L272.49 705.64 L276.34 707.73 L280.18 709.84 L284.03 711.96 L287.88 714.07 L291.73 716.15 L295.58 718.2 L299.42 720.2 L303.27 722.12 L307.12 723.96 L310.97 725.71 L314.82 727.34 L318.66 728.83 L322.51 730.19 L326.36 731.39 L330.21 732.43 L334.05 733.28 L337.9 733.95 L341.75 734.43 L345.6 734.7 L349.45 734.76 L353.29 734.62 L357.14 734.27 L360.99 733.7 L364.84 732.93 L368.69 731.96 L372.53 730.79 L376.38 729.44 L380.23 727.91 L384.08 726.22 L387.92 724.38 L391.77 722.42 L395.62 720.33 L399.47 718.16 L403.32 715.91 L407.16 713.61 L411.01 711.28 L414.86 708.95 L418.71 706.64 L422.56 704.37 L426.4 702.17 L430.25 700.05 L434.1 698.05 L437.95 696.18 L441.79 694.47 L445.64 692.93 L449.49 691.58 L453.34 690.44 L457.19 689.52 L461.03 688.83 L464.88 688.38 L468.73 688.18 L472.58 688.22 L476.43 688.52 L480.27 689.06 L484.12 689.85 L487.97 690.87 L491.82 692.11 L495.67 693.57 L499.51 695.22 L503.36 697.04 L507.21 699.03 L511.06 701.14 L514.9 703.37 L518.75 705.69 L522.6 708.06 L526.45 710.47 L530.3 712.87 L534.14 715.26 L537.99 717.59 L541.84 719.84 L545.69 721.99 L549.54 724.01 L553.38 725.87 L557.23 727.56 L561.08 729.05 L564.93 730.33 L568.77 731.38 L572.62 732.19 L576.47 732.74 L580.32 733.04 L584.17 733.08 L588.01 732.86 L591.86 732.37 L595.71 731.64 L599.56 730.66 L603.41 729.45 L607.25 728.01 L611.1 726.38 L614.95 724.57 L618.8 722.59 L622.65 720.48 L626.49 718.25 L630.34 715.94 L634.19 713.57 L638.04 711.16 L641.88 708.76 L645.73 706.37 L649.58 704.04 L653.43 701.78 L657.28 699.63 L661.12 697.6 L664.97 695.73 L668.82 694.02 L672.67 692.51 L676.52 691.2 L680.36 690.12 L684.21 689.26 L688.06 688.65 L691.91 688.28 L695.75 688.16 L699.6 688.3 L703.45 688.67 L707.3 689.3 L711.15 690.15 L714.99 691.23 L718.84 692.52 L722.69 694 L726.54 695.67 L730.39 697.49 L734.23 699.46 L738.08 701.54 L741.93 703.72 L745.78 705.98 L749.63 708.28 L753.47 710.61 L757.32 712.94 L761.17 715.25 L765.02 717.51 L768.86 719.71 L772.71 721.82 L776.56 723.83 L780.41 725.7 L784.26 727.44 L788.1 729.02 L791.95 730.42 L795.8 731.64 L799.65 732.67 L803.5 733.5 L807.34 734.13 L811.19 734.54 L815.04 734.74 L818.89 734.74 L822.73 734.53 L826.58 734.11 L830.43 733.5 L834.28 732.69 L838.13 731.71 L841.97 730.56 L845.82 729.24 L849.67 727.78 L853.52 726.19 L857.37 724.48 L861.21 722.67 L865.06 720.76 L868.91 718.79 L872.76 716.75 L876.61 714.68 L880.45 712.57 L884.3 710.46 L888.15 708.34 L892 706.25 L895.84 704.18 L899.69 702.15 L903.54 700.18 L907.39 698.27 L911.24 696.44 L915.08 694.69 L918.93 693.03 L922.78 691.47 L926.63 690.01 L930.48 688.66 L934.32 687.42 L938.17 686.3 L942.02 685.3 L945.87 684.41 L949.71 683.64 L953.56 682.99 L957.41 682.46 L961.26 682.04 L965.11 681.72 L968.95 681.52 L972.8 681.42 L976.65 681.42 L980.5 681.51 L984.35 681.69 L988.19 681.95 L992.04 682.29 L995.89 682.71 L999.74 683.18 L1003.58 683.72 L1007.43 684.31 L1011.28 684.95 L1015.13 685.63 L1018.98 686.35 L1022.82 687.1 L1026.67 687.87 L1030.52 688.66 L1034.37 689.47 L1038.22 690.29 L1042.06 691.12 L1045.91 691.95 L1049.76 692.77 L1053.61 693.59 L1057.46 694.41 L1061.3 695.21 L1065.15 696 L1069 696.77 L1072.85 697.52 L1076.69 698.26 L1080.54 698.97 L1084.39 699.66 L1088.24 700.33 L1092.09 700.97 L1095.93 701.59 L1099.78 702.18 L1103.63 702.75 L1107.48 703.29 L1111.33 703.8 L1115.17 704.29 L1119.02 704.75 L1122.87 705.19 L1126.72 705.6 L1130.56 705.99 L1134.41 706.36 L1138.26 706.71 L1142.11 707.03 L1145.96 707.33 L1149.8 707.61 L1153.65 707.88 L1157.5 708.12" fill="none" stroke="#000" stroke-width="1.85" stroke-linecap="square"/>
</g>
<g fill="none" stroke="#000" stroke-width="4.2" stroke-linecap="round" stroke-linejoin="round"><line x1="1163.9" y1="446.2" x2="1163.9" y2="1180.8"/><polyline points="1147.7,478.7 1163.9,446.2 1180.1,478.7"/><polyline points="1147.7,1148.3 1163.9,1180.8 1180.1,1148.3"/></g>
<g fill="none" stroke="#000" stroke-width="4.2" stroke-linecap="round" stroke-linejoin="round"><line x1="1233.7" y1="379.3" x2="1233.7" y2="435.4"/><polyline points="1224.5,397.8 1233.7,379.3 1242.9,397.8"/><polyline points="1224.5,416.9 1233.7,435.4 1242.9,416.9"/></g>
<g fill="none" stroke="#000" stroke-width="4.2" stroke-linecap="round" stroke-linejoin="round"><line x1="1233.7" y1="1112.2" x2="1233.7" y2="1181"/><polyline points="1224.5,1130.7 1233.7,1112.2 1242.9,1130.7"/><polyline points="1224.5,1162.5 1233.7,1181 1242.9,1162.5"/></g>
<g fill="none" stroke="#000" stroke-width="4.2" stroke-linecap="round" stroke-linejoin="round"><line x1="587.3" y1="1354.6" x2="810.5" y2="1354.6"/><polyline points="611.8,1367 587.3,1354.6 611.8,1342.2"/><polyline points="786,1367 810.5,1354.6 786,1342.2"/></g>
<line x1="141.2" y1="70" x2="141.2" y2="1397.2" stroke="#000" stroke-width="6.1"/>
<line x1="138.2" y1="1394.2" x2="1290" y2="1394.2" stroke="#000" stroke-width="6"/>
<polygon points="139.2,38.1 143.1,38.1 160.5,106.7 156.5,108 141.2,77.2 125.9,108 121.9,106.7" fill="#000"/>
<polygon points="1321.9,1394.1 1241.4,1366.9 1283.3,1394.1 1241.4,1421.3" fill="#000"/>
<path d="M1458.22 360 L1458.25 362 L1458.28 364 L1458.31 366 L1458.34 368 L1458.37 370 L1458.4 372 L1458.43 374 L1458.46 376 L1458.49 378 L1458.51 380 L1458.54 382 L1458.56 384 L1458.58 386 L1458.59 388 L1458.6 390 L1458.61 392 L1458.62 394 L1458.62 396 L1458.62 398 L1458.61 400 L1458.61 402 L1458.6 404 L1458.59 406 L1458.58 408 L1458.57 410 L1458.57 412 L1458.56 414 L1458.56 416 L1458.57 418 L1458.58 420 L1458.6 422 L1458.63 424 L1458.67 426 L1458.72 428 L1458.78 430 L1458.85 432 L1458.93 434 L1459.02 436 L1459.13 438 L1459.24 440 L1459.36 442 L1459.5 444 L1459.63 446 L1459.78 448 L1459.92 450 L1460.07 452 L1460.21 454 L1460.35 456 L1460.48 458 L1460.61 460 L1460.72 462 L1460.82 464 L1460.9 466 L1460.97 468 L1461.02 470 L1461.05 472 L1461.06 474 L1461.06 476 L1461.04 478 L1461.01 480 L1460.97 482 L1460.92 484 L1460.86 486 L1460.8 488 L1460.75 490 L1460.71 492 L1460.68 494 L1460.68 496 L1460.69 498 L1460.74 500 L1460.82 502 L1460.94 504 L1461.1 506 L1461.31 508 L1461.56 510 L1461.87 512 L1462.22 514 L1462.62 516 L1463.07 518 L1463.57 520 L1464.1 522 L1464.67 524 L1465.26 526 L1465.88 528 L1466.5 530 L1467.12 532 L1467.73 534 L1468.31 536 L1468.87 538 L1469.38 540 L1469.83 542 L1470.23 544 L1470.55 546 L1470.8 548 L1470.98 550 L1471.07 552 L1471.08 554 L1471.02 556 L1470.88 558 L1470.68 560 L1470.43 562 L1470.14 564 L1469.83 566 L1469.5 568 L1469.18 570 L1468.89 572 L1468.64 574 L1468.46 576 L1468.35 578 L1468.34 580 L1468.45 582 L1468.69 584 L1469.07 586 L1469.61 588 L1470.3 590 L1471.16 592 L1472.18 594 L1473.36 596 L1474.7 598 L1476.18 600 L1477.78 602 L1479.48 604 L1481.27 606 L1483.11 608 L1484.98 610 L1486.83 612 L1488.65 614 L1490.39 616 L1492.02 618 L1493.5 620 L1494.81 622 L1495.93 624 L1496.83 626 L1497.48 628 L1497.9 630 L1498.06 632 L1497.97 634 L1497.65 636 L1497.11 638 L1496.38 640 L1495.48 642 L1494.46 644 L1493.35 646 L1492.21 648 L1491.07 650 L1490.01 652 L1489.06 654 L1488.28 656 L1487.71 658 L1487.42 660 L1487.44 662 L1487.8 664 L1488.55 666 L1489.7 668 L1491.28 670 L1493.29 672 L1495.73 674 L1498.58 676 L1501.83 678 L1505.43 680 L1509.35 682 L1513.52 684 L1517.89 686 L1522.38 688 L1526.92 690 L1531.41 692 L1535.79 694 L1539.94 696 L1543.81 698 L1547.29 700 L1550.33 702 L1552.86 704 L1554.82 706 L1556.18 708 L1556.92 710 L1557.03 712 L1556.53 714 L1555.44 716 L1553.8 718 L1551.69 720 L1549.18 722 L1546.35 724 L1543.32 726 L1540.18 728 L1537.07 730 L1534.09 732 L1531.38 734 L1529.03 736 L1527.18 738 L1525.93 740 L1525.37 742 L1525.57 744 L1526.62 746 L1528.56 748 L1531.41 750 L1535.19 752 L1539.89 754 L1545.48 756 L1551.88 758 L1559.03 760 L1566.83 762 L1575.15 764 L1583.85 766 L1592.77 768 L1601.76 770 L1610.63 772 L1619.2 774 L1627.3 776 L1634.75 778 L1641.4 780 L1647.09 782 L1651.71 784 L1655.16 786 L1657.36 788 L1658.29 790 L1657.93 792 L1656.32 794 L1653.52 796 L1649.63 798 L1644.78 800 L1639.13 802 L1632.85 804 L1626.15 806 L1619.25 808 L1612.36 810 L1605.72 812 L1599.56 814 L1594.08 816 L1589.5 818 L1586.01 820 L1583.78 822 L1582.95 824 L1583.62 826 L1585.89 828 L1589.78 830 L1595.32 832 L1602.46 834 L1611.13 836 L1621.22 838 L1632.59 840 L1645.03 842 L1658.35 844 L1672.28 846 L1686.55 848 L1700.89 850 L1714.98 852 L1728.52 854 L1741.21 856 L1752.78 858 L1762.95 860 L1771.5 862 L1778.23 864 L1782.99 866 L1785.67 868 L1786.22 870 L1784.66 872 L1781.04 874 L1775.47 876 L1768.13 878 L1759.22 880 L1749.01 882 L1737.78 884 L1725.86 886 L1713.58 888 L1701.28 890 L1689.32 892 L1678.04 894 L1667.77 896 L1658.8 898 L1651.41 900 L1645.85 902 L1642.29 904 L1640.9 906 L1641.78 908 L1644.97 910 L1650.46 912 L1658.19 914 L1668.05 916 L1679.86 918 L1693.41 920 L1708.42 922 L1724.6 924 L1741.59 926 L1759.02 928 L1776.51 930 L1793.64 932 L1810.03 934 L1825.29 936 L1839.03 938 L1850.94 940 L1860.72 942 L1868.12 944 L1872.97 946 L1875.15 948 L1874.6 950 L1871.35 952 L1865.49 954 L1857.16 956 L1846.59 958 L1834.06 960 L1819.88 962 L1804.41 964 L1788.06 966 L1771.21 968 L1754.29 970 L1737.71 972 L1721.86 974 L1707.13 976 L1693.84 978 L1682.3 980 L1672.78 982 L1665.47 984 L1660.54 986 L1658.07 988 L1658.1 990 L1660.61 992 L1665.51 994 L1672.68 996 L1681.91 998 L1692.97 1000 L1705.58 1002 L1719.39 1004 L1734.07 1006 L1749.23 1008 L1764.48 1010 L1779.42 1012 L1793.65 1014 L1806.81 1016 L1818.54 1018 L1828.53 1020 L1836.49 1022 L1842.22 1024 L1845.55 1026 L1846.37 1028 L1844.65 1030 L1840.41 1032 L1833.75 1034 L1824.82 1036 L1813.82 1038 L1801.01 1040 L1786.68 1042 L1771.15 1044 L1754.78 1046 L1737.91 1048 L1720.91 1050 L1704.12 1052 L1687.89 1054 L1672.51 1056 L1658.28 1058 L1645.42 1060 L1634.14 1062 L1624.6 1064 L1616.92 1066 L1611.14 1068 L1607.3 1070 L1605.37 1072 L1605.27 1074 L1606.89 1076 L1610.1 1078 L1614.7 1080 L1620.49 1082 L1627.23 1084 L1634.67 1086 L1642.56 1088 L1650.62 1090 L1658.59 1092 L1666.2 1094 L1673.21 1096 L1679.39 1098 L1684.54 1100 L1688.49 1102 L1691.09 1104 L1692.25 1106 L1691.89 1108 L1690 1110 L1686.59 1112 L1681.71 1114 L1675.44 1116 L1667.9 1118 L1659.23 1120 L1649.59 1122 L1639.16 1124 L1628.12 1126 L1616.66 1128 L1604.96 1130 L1593.2 1132 L1581.55 1134 L1570.16 1136 L1559.15 1138 L1548.65 1140 L1538.74 1142 L1529.5 1144 L1520.98 1146 L1513.22 1148 L1506.22 1150 L1504.6 1150.5 L1503.02 1151 L1501.49 1151.5 L1500.01 1152 L1498.57 1152.5 L1497.19 1153 L1495.85 1153.5 L1494.56 1154 L1493.31 1154.5 L1492.12 1155 L1490.97 1155.5 L1489.86 1156 L1488.81 1156.5 L1487.8 1157 L1486.83 1157.5 L1485.91 1158 L1485.04 1158.5 L1484.21 1159 L1483.43 1159.5 L1482.69 1160 L1482 1160.5 L1481.35 1161 L1480.75 1161.5 L1480.19 1162 L1479.68 1162.5 L1479.22 1163 L1478.8 1163.5 L1478.44 1164 L1478.12 1164.5 L1477.85 1165 L1477.64 1165.5 L1477.47 1166 L1477.37 1166.5 L1477.32 1167 L1477.33 1167.5 L1477.41 1168 L1477.56 1168.5 L1477.77 1169 L1478.07 1169.5 L1478.45 1170 L1478.93 1170.5 L1479.5 1171 L1480.19 1171.5 L1481 1172 L1481.95 1172.5 L1483.05 1173 L1484.33 1173.5 L1485.81 1174 L1487.52 1174.5 L1489.5 1175 L1491.79 1175.5 L1494.44 1176 L1495.01 1176.1 L1495.61 1176.2 L1496.23 1176.3 L1496.86 1176.4 L1497.51 1176.5 L1498.19 1176.6 L1498.88 1176.7 L1499.6 1176.8 L1500.34 1176.9 L1501.1 1177 L1501.89 1177.1 L1502.7 1177.2 L1503.54 1177.3 L1504.41 1177.4 L1505.31 1177.5 L1506.23 1177.6 L1507.19 1177.7 L1508.17 1177.8 L1509.19 1177.9 L1510.25 1178 L1511.34 1178.1 L1512.47 1178.2 L1513.64 1178.3 L1514.85 1178.4 L1516.1 1178.5 L1517.4 1178.6 L1518.74 1178.7 L1520.13 1178.8 L1521.57 1178.9 L1523.06 1179 L1524.61 1179.1 L1526.22 1179.2 L1527.88 1179.3 L1529.61 1179.4 L1531.41 1179.5 L1533.27 1179.6 L1535.2 1179.7 L1537.21 1179.8 L1539.3 1179.9 L1541.48 1180 L1543.73 1180.1 L1546.08 1180.2 L1548.53 1180.3 L1551.07 1180.4 L1553.72 1180.5 L1556.47 1180.6 L1559.35 1180.7 L1562.34 1180.8 L1565.46 1180.9 L1568.71 1181 L1572.09 1181.1 L1575.63 1181.2 L1579.32 1181.3 L1583.16 1181.4 L1587.18 1181.5 L1591.37 1181.6 L1595.74 1181.7 L1600.31 1181.8 L1605.08 1181.9 L1610.06 1182 L1615.25 1182.1 L1620.68 1182.2 L1626.34 1182.3 L1632.25 1182.4 L1638.42 1182.5 L1644.86 1182.6 L1651.57 1182.7 L1658.56 1182.8 L1665.85 1182.9 L1673.43 1183 L1681.32 1183.1 L1689.51 1183.2 L1698.01 1183.3 L1706.83 1183.4 L1715.95 1183.5 L1725.37 1183.6 L1735.08 1183.7 L1745.07 1183.8 L1755.32 1183.9 L1765.8 1184 L1776.48 1184.1 L1787.33 1184.2 L1798.3 1184.3 L1809.34 1184.4 L1820.39 1184.5 L1831.37 1184.6 L1842.22 1184.7 L1852.84 1184.8 L1863.15 1184.9 L1873.04 1185 L1882.42 1185.1 L1891.18 1185.2 L1899.22 1185.3 L1906.43 1185.4 L1912.71 1185.5 L1917.99 1185.6 L1922.17 1185.7 L1925.2 1185.8 L1927.04 1185.9 L1927.64 1186 L1927.01 1186.1 L1925.15 1186.2 L1922.09 1186.3 L1917.88 1186.4 L1912.58 1186.5 L1906.27 1186.6 L1899.03 1186.7 L1890.97 1186.8 L1882.19 1186.9 L1872.78 1187 L1862.86 1187.1 L1852.53 1187.2 L1841.88 1187.3 L1831 1187.4 L1819.99 1187.5 L1808.92 1187.6 L1797.85 1187.7 L1786.85 1187.8 L1775.98 1187.9 L1765.27 1188 L1754.76 1188.1 L1744.48 1188.2 L1734.47 1188.3 L1724.73 1188.4 L1715.28 1188.5 L1706.13 1188.6 L1697.29 1188.7 L1688.76 1188.8 L1680.54 1188.9 L1672.63 1189 L1665.01 1189.1 L1657.7 1189.2 L1650.68 1189.3 L1643.94 1189.4 L1637.48 1189.5 L1631.28 1189.6 L1625.34 1189.7 L1619.65 1189.8 L1614.19 1189.9 L1608.96 1190 L1603.96 1190.1 L1599.16 1190.2 L1594.56 1190.3 L1590.16 1190.4 L1585.94 1190.5 L1581.89 1190.6 L1578.02 1190.7 L1574.3 1190.8 L1570.73 1190.9 L1567.31 1191 L1564.03 1191.1 L1560.88 1191.2 L1557.86 1191.3 L1554.95 1191.4 L1552.17 1191.5 L1549.49 1191.6 L1546.91 1191.7 L1544.43 1191.8 L1542.05 1191.9 L1539.76 1192 L1537.56 1192.1 L1535.43 1192.2 L1533.39 1192.3 L1531.42 1192.4 L1529.52 1192.5 L1527.7 1192.6 L1525.93 1192.7 L1524.23 1192.8 L1522.59 1192.9 L1521.01 1193 L1519.48 1193.1 L1518 1193.2 L1516.57 1193.3 L1515.19 1193.4 L1513.86 1193.5 L1512.57 1193.6 L1511.33 1193.7 L1510.12 1193.8 L1508.95 1193.9 L1507.82 1194 L1506.73 1194.1 L1505.67 1194.2 L1504.64 1194.3 L1503.65 1194.4 L1502.68 1194.5 L1501.75 1194.6 L1500.84 1194.7 L1499.96 1194.8 L1499.1 1194.9 L1498.27 1195 L1497.47 1195.1 L1496.69 1195.2 L1495.93 1195.3 L1495.19 1195.4 L1494.47 1195.5 L1493.77 1195.6 L1493.09 1195.7 L1492.43 1195.8 L1491.79 1195.9 L1491.17 1196 L1488.28 1196.5 L1485.75 1197 L1483.52 1197.5 L1481.54 1198 L1479.78 1198.5 L1478.21 1199 L1476.8 1199.5 L1475.53 1200 L1474.38 1200.5 L1473.34 1201 L1472.39 1201.5 L1471.53 1202 L1470.74 1202.5 L1470.02 1203 L1469.36 1203.5 L1468.75 1204 L1468.19 1204.5 L1467.67 1205 L1467.18 1205.5 L1466.74 1206 L1466.32 1206.5 L1465.94 1207 L1465.58 1207.5 L1465.24 1208 L1464.92 1208.5 L1464.63 1209 L1464.35 1209.5 L1464.09 1210 L1463.85 1210.5 L1463.62 1211 L1463.4 1211.5 L1463.2 1212 L1463.01 1212.5 L1462.82 1213 L1462.65 1213.5 L1462.49 1214 L1462.33 1214.5 L1462.18 1215 L1462.05 1215.5 L1461.91 1216 L1461.79 1216.5 L1461.66 1217 L1461.55 1217.5 L1461.44 1218 L1461.34 1218.5 L1461.24 1219 L1461.14 1219.5 L1461.05 1220 L1460.96 1220.5 L1460.88 1221 L1460.8 1221.5 L1460.72 1222 L1460.65 1222.5 L1460.58 1223 L1460.51 1223.5 L1460.44 1224 L1460.38 1224.5 L1460.32 1225 L1460.26 1225.5 L1460.21 1226 L1460.15 1226.5 L1460.1 1227 L1460.05 1227.5 L1460 1228 L1459.95 1228.5 L1459.91 1229 L1459.87 1229.5 L1459.82 1230 L1459.6 1233 L1459.41 1236 L1459.26 1239 L1459.13 1242 L1459.02 1245 L1458.92 1248 L1458.84 1251 L1458.77 1254 L1458.7 1257 L1458.65 1260 L1458.6 1263 L1458.55 1266 L1458.51 1269 L1458.48 1272 L1458.45 1275 L1458.42 1278 L1458.39 1281 L1458.37 1284 L1458.35 1287 L1458.33 1290 L1458.31 1293 L1458.29 1296 L1458.28 1299 L1458.26 1302 L1458.25 1305 L1458.24 1308 L1458.23 1311 L1458.22 1314 L1458.21 1317 L1458.2 1320 L1458.19 1323 L1458.18 1326 L1458.17 1329 L1458.17 1332" fill="none" stroke="#000" stroke-width="3.6" stroke-linejoin="round" stroke-linecap="round"/>
<line x1="1461" y1="1186.3" x2="1504.2" y2="1186.3" stroke="#0000f1" stroke-width="5"/>
<line x1="1461" y1="1107.05" x2="1641.6" y2="1107.05" stroke="#0080ff" stroke-width="5"/>
<line x1="1461" y1="1027.8" x2="1770" y2="1027.8" stroke="#29ffce" stroke-width="5"/>
<line x1="1461" y1="948.55" x2="1794.4" y2="948.55" stroke="#a4ff53" stroke-width="5"/>
<line x1="1461" y1="869.3" x2="1719.7" y2="869.3" stroke="#ffc400" stroke-width="5"/>
<line x1="1461" y1="790.05" x2="1614" y2="790.05" stroke="#ff3800" stroke-width="5"/>
<line x1="1461" y1="710.8" x2="1529.7" y2="710.8" stroke="#800000" stroke-width="5"/>
<line x1="1457.45" y1="352.4" x2="1457.45" y2="1360" stroke="#000" stroke-width="4.7"/>
<line x1="1455.1" y1="354.65" x2="1952" y2="354.65" stroke="#000" stroke-width="4.4"/>
<polygon points="1989,354.6 1908.2,334.7 1945.5,354.6 1904.9,375.9" fill="#000"/>
<polygon points="1455.2,1403.75 1443.9,1325 1447.6,1324.1 1457.5,1357 1467.5,1324.1 1471.1,1325 1459.7,1403.75" fill="#000"/>
<polyline points="1886.1,531.8 1896.8,537.8 1900.9,543.5 1902,552 1902,808 1903,818.4 1907.2,824.6 1916.9,830 1907.2,835.2 1903,841.2 1902,851.5 1902,1107 1900.9,1116 1896.8,1121.7 1886.1,1127.7" fill="none" stroke="#000" stroke-width="4" stroke-linejoin="round"/>
<g fill="#000">
<text x="397.5" y="77.5" font-size="62.5" font-weight="bold">ES</text>
<text x="163.5" y="611" font-size="62.5" font-weight="bold">GS</text>
<text transform="translate(74.2,910) rotate(-90)" font-size="58.33">Total Energy</text>
<text x="378.2" y="1503.2" font-size="58.45">Configuration Coordinate</text>
<text x="1439.5" y="313.4" font-size="54.25">Photoluminescence</text>
<text transform="translate(1383.75,618.1) rotate(90)" font-size="54.17">Photon Energy</text>
<text x="1954.1" y="850" font-size="54.17">PSB</text>
<text x="1954.2" y="1206" font-size="54.17" fill="#0000f1">ZPL</text>
<text x="1187" y="628.7" font-size="58.33"><tspan font-style="italic">E</tspan><tspan font-size="40.83" dy="9.2">ZPL</tspan></text>
<text x="1257.3" y="426" font-size="50" font-style="italic">ħω<tspan font-size="35" dy="8">e</tspan></text>
<text x="1257.2" y="1167" font-size="50" font-style="italic">ħω<tspan font-size="35" dy="8">g</tspan></text>
<text x="652" y="1331.5" font-size="58.33">Δ<tspan font-style="italic">Q</tspan></text>
</g>
</svg>
</body></html>
